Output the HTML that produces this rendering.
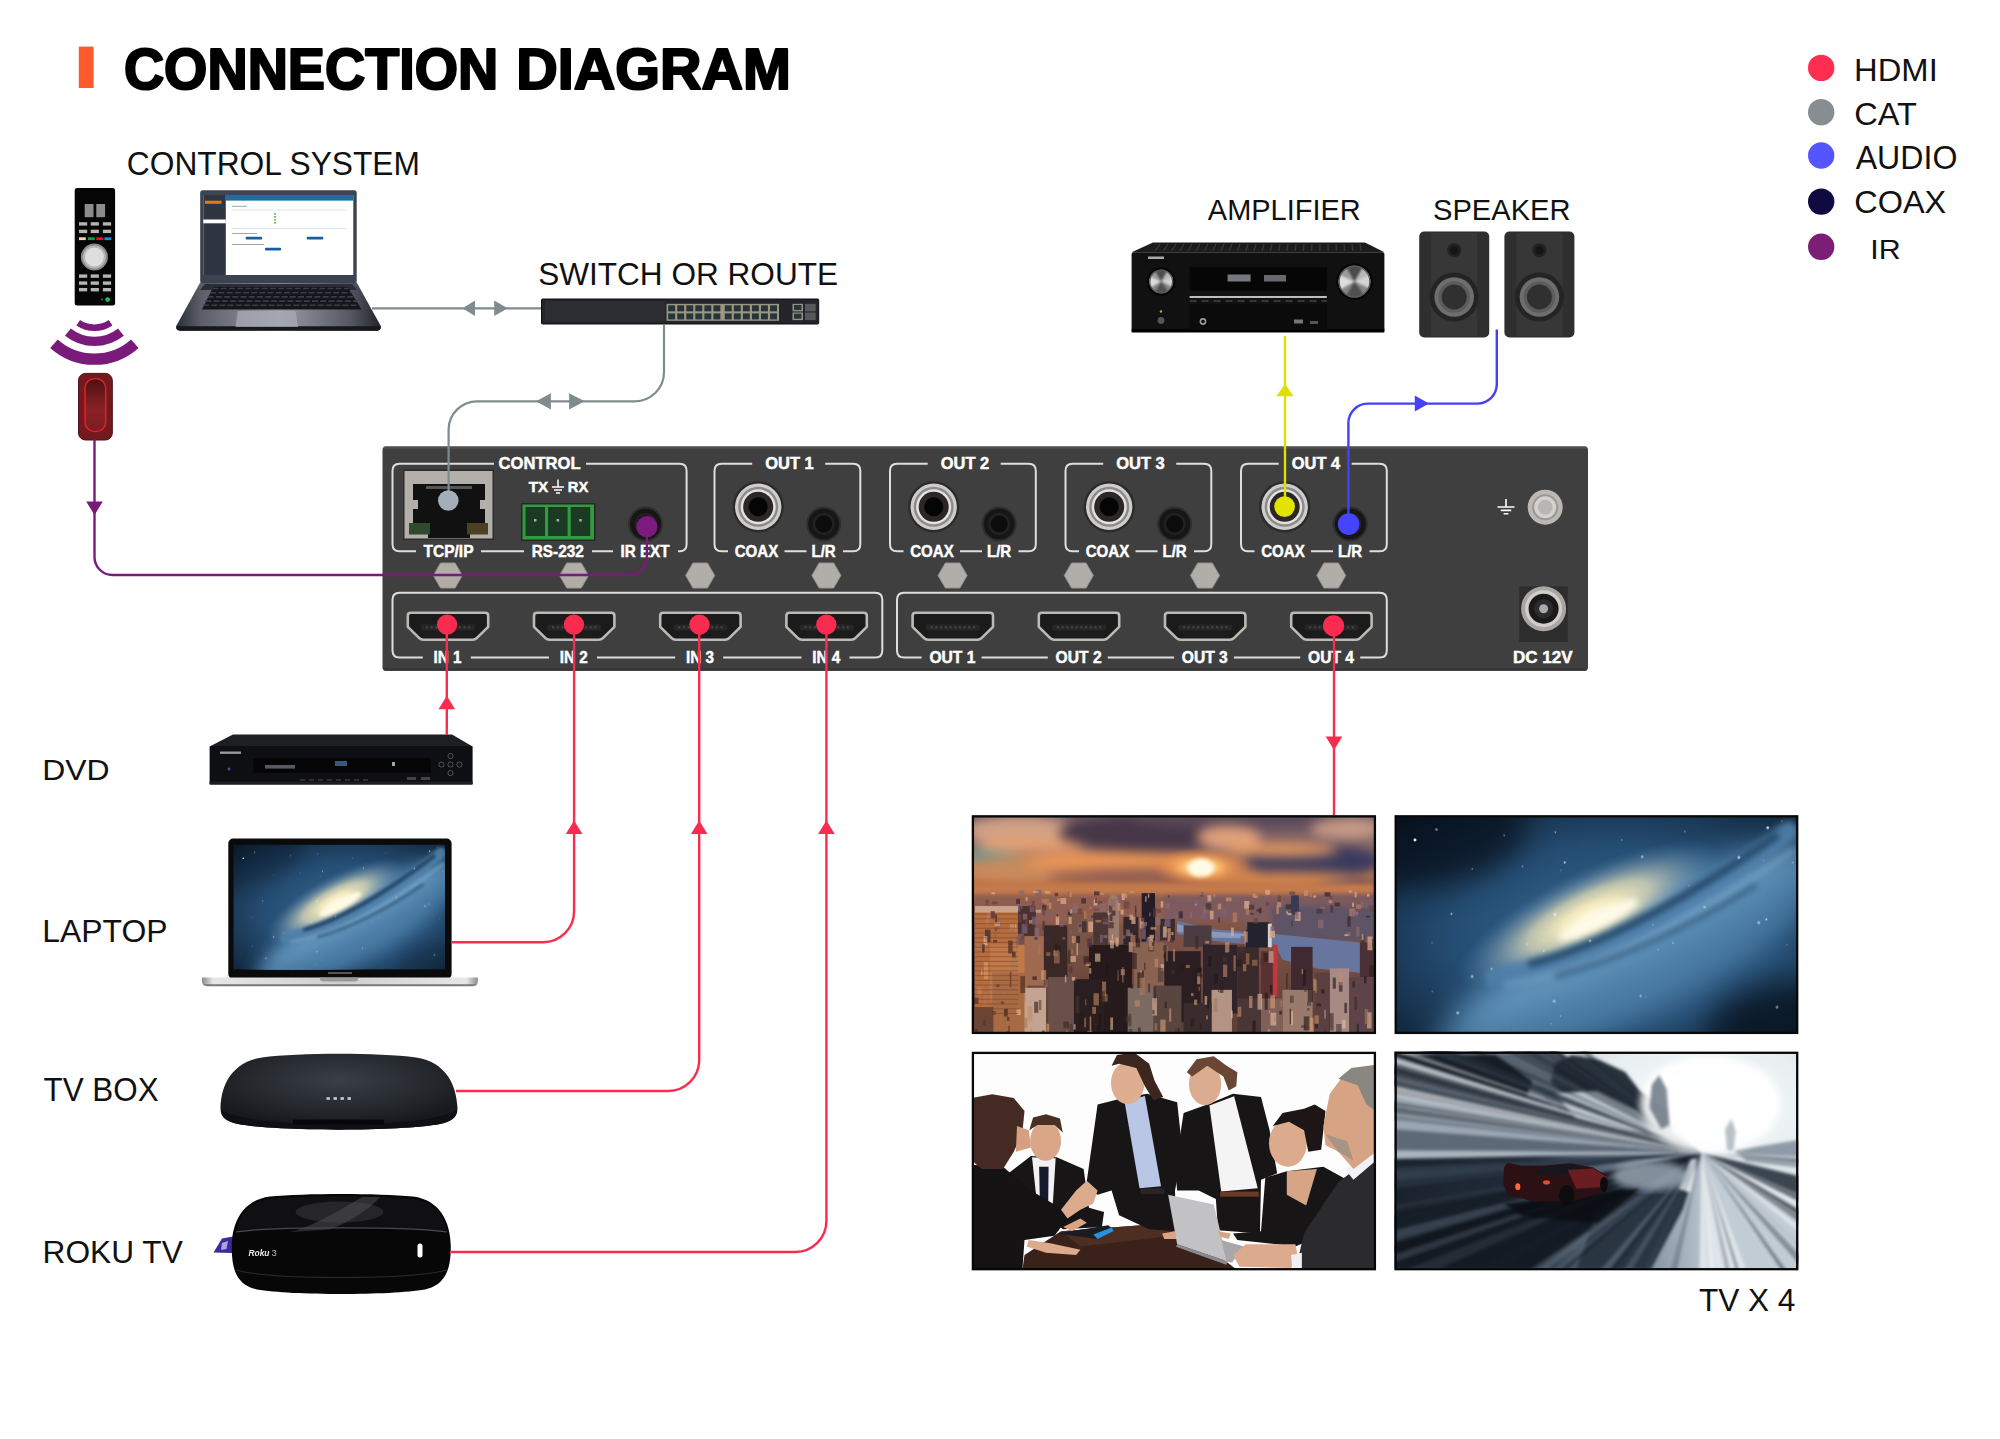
<!DOCTYPE html>
<html><head><meta charset="utf-8"><title>Connection Diagram</title>
<style>
html,body{margin:0;padding:0;background:#fff;}
body{width:2000px;height:1439px;overflow:hidden;font-family:"Liberation Sans",sans-serif;}
svg{display:block;}
</style></head><body>
<svg width="2000" height="1439" viewBox="0 0 2000 1439">
<rect width="2000" height="1439" fill="#fff"/>
<!-- p1_text -->
<rect x="78.8" y="46.6" width="14.8" height="41.4" fill="#ff5a2b"/>
<text x="123.9" y="89.2" font-family="Liberation Sans, sans-serif" font-weight="bold" font-size="57.3" fill="#000" stroke="#000" stroke-width="2.2" stroke-linejoin="round" lengthAdjust="spacingAndGlyphs" textLength="374.4">CONNECTION</text>
<text x="516.3" y="89.2" font-family="Liberation Sans, sans-serif" font-weight="bold" font-size="57.3" fill="#000" stroke="#000" stroke-width="2.2" stroke-linejoin="round" lengthAdjust="spacingAndGlyphs" textLength="274.5">DIAGRAM</text>
<text x="126.87" y="174.7" font-family="Liberation Sans, sans-serif" font-size="32.39" fill="#111" textLength="293.03" lengthAdjust="spacingAndGlyphs">CONTROL SYSTEM</text>
<text x="538.15" y="284.9" font-family="Liberation Sans, sans-serif" font-size="30.47" fill="#111" textLength="299.94" lengthAdjust="spacingAndGlyphs">SWITCH OR ROUTE</text>
<text x="1207.83" y="219.9" font-family="Liberation Sans, sans-serif" font-size="28.57" fill="#111" textLength="152.84" lengthAdjust="spacingAndGlyphs">AMPLIFIER</text>
<text x="1432.96" y="219.9" font-family="Liberation Sans, sans-serif" font-size="29.4" fill="#111" textLength="137.63" lengthAdjust="spacingAndGlyphs">SPEAKER</text>
<text x="42.27" y="779.9" font-family="Liberation Sans, sans-serif" font-size="30.13" fill="#111" textLength="67.37" lengthAdjust="spacingAndGlyphs">DVD</text>
<text x="42.29" y="941.5" font-family="Liberation Sans, sans-serif" font-size="31.57" fill="#111" textLength="125.28" lengthAdjust="spacingAndGlyphs">LAPTOP</text>
<text x="43.56" y="1101.3" font-family="Liberation Sans, sans-serif" font-size="32.75" fill="#111" textLength="115.04" lengthAdjust="spacingAndGlyphs">TV BOX</text>
<text x="42.62" y="1263.3" font-family="Liberation Sans, sans-serif" font-size="31.57" fill="#111" textLength="140.16" lengthAdjust="spacingAndGlyphs">ROKU TV</text>
<text x="1698.89" y="1311.1" font-family="Liberation Sans, sans-serif" font-size="31.57" fill="#111" textLength="96.54" lengthAdjust="spacingAndGlyphs">TV X 4</text>
<text x="1854.09" y="80.7" font-family="Liberation Sans, sans-serif" font-size="30.62" fill="#111" textLength="83.66" lengthAdjust="spacingAndGlyphs">HDMI</text>
<text x="1854.26" y="125.3" font-family="Liberation Sans, sans-serif" font-size="32.17" fill="#111" textLength="62.61" lengthAdjust="spacingAndGlyphs">CAT</text>
<text x="1855.69" y="169.1" font-family="Liberation Sans, sans-serif" font-size="33.58" fill="#111" textLength="101.7" lengthAdjust="spacingAndGlyphs">AUDIO</text>
<text x="1854.27" y="213.3" font-family="Liberation Sans, sans-serif" font-size="32.17" fill="#111" textLength="91.95" lengthAdjust="spacingAndGlyphs">COAX</text>
<text x="1870.38" y="258.5" font-family="Liberation Sans, sans-serif" font-size="28.27" fill="#111" textLength="30.36" lengthAdjust="spacingAndGlyphs">IR</text>
<circle cx="1821.2" cy="67.9" r="13.2" fill="#ff2d4f"/>
<circle cx="1821.2" cy="112.2" r="13.2" fill="#868e91"/>
<circle cx="1821.2" cy="155.5" r="13.2" fill="#5555ff"/>
<circle cx="1821.2" cy="201.6" r="13.2" fill="#0f0a40"/>
<circle cx="1821.2" cy="246.8" r="13.2" fill="#7a1f75"/>
<!-- p3_device -->
<rect x="382.5" y="446.5" width="1205.5" height="224.2" rx="3.5" fill="#3f3f3f"/>
<rect x="383.5" y="446.5" width="1203.5" height="2.2" rx="1.5" fill="#505050"/>
<rect x="383.5" y="668.4" width="1203.5" height="2.3" rx="1.5" fill="#353535"/>
<path d="M399.5 463.8H494M586 463.8H679.6M399.5 551.3H416M481 551.3H524M592 551.3H613M678 551.3H679.6M399.5 463.8Q392.5 463.8 392.5 470.8V544.3Q392.5 551.3 399.5 551.3M679.6 463.8Q686.6 463.8 686.6 470.8V544.3Q686.6 551.3 679.6 551.3" fill="none" stroke="#dedede" stroke-width="2"/>
<text x="539.6" y="469" font-family="Liberation Sans, sans-serif" font-weight="bold" font-size="15.7" fill="#fff" stroke="#fff" stroke-width="0.45" text-anchor="middle" textLength="82" lengthAdjust="spacingAndGlyphs">CONTROL</text>
<text x="448.5" y="556.7" font-family="Liberation Sans, sans-serif" font-weight="bold" font-size="15.7" fill="#fff" stroke="#fff" stroke-width="0.45" text-anchor="middle" textLength="50" lengthAdjust="spacingAndGlyphs">TCP/IP</text>
<text x="557.8" y="556.7" font-family="Liberation Sans, sans-serif" font-weight="bold" font-size="15.7" fill="#fff" stroke="#fff" stroke-width="0.45" text-anchor="middle" textLength="52" lengthAdjust="spacingAndGlyphs">RS-232</text>
<text x="645" y="556.7" font-family="Liberation Sans, sans-serif" font-weight="bold" font-size="15.7" fill="#fff" stroke="#fff" stroke-width="0.45" text-anchor="middle" textLength="49" lengthAdjust="spacingAndGlyphs">IR EXT</text>
<text x="538.5" y="492.2" font-family="Liberation Sans, sans-serif" font-weight="bold" font-size="14.2" fill="#fff" stroke="#fff" stroke-width="0.45" text-anchor="middle" textLength="19.5" lengthAdjust="spacingAndGlyphs">TX</text>
<text x="578" y="492.2" font-family="Liberation Sans, sans-serif" font-weight="bold" font-size="14.2" fill="#fff" stroke="#fff" stroke-width="0.45" text-anchor="middle" textLength="20.5" lengthAdjust="spacingAndGlyphs">RX</text>
<path d="M558 479.5V487M552 487H564M554 490H562M556 493H560" stroke="#fff" stroke-width="1.5" fill="none"/>
<rect x="403" y="469.5" width="91" height="70.5" fill="#2c2c2c"/>
<rect x="404.5" y="471" width="88" height="67.5" fill="#b3afab"/>
<path d="M413 484H485V531H470V538H428V531H413Z" fill="#111"/>
<rect x="409" y="523" width="21" height="11.5" fill="#2f4a2c"/>
<rect x="467" y="523" width="21" height="11.5" fill="#4d4124"/>
<rect x="426" y="486" width="46" height="3" fill="#555"/>
<rect x="413" y="500" width="5" height="9" fill="#b3afab"/><rect x="480" y="500" width="5" height="9" fill="#b3afab"/>
<rect x="521" y="503" width="74.5" height="38" fill="#262626"/>
<rect x="522.5" y="504.5" width="71.5" height="35" fill="#2f9c40"/>
<rect x="525.5" y="507" width="19.5" height="29" fill="#1b3a24"/>
<rect x="534" y="519" width="2.5" height="2.5" fill="#9fb8a0"/>
<rect x="548.1" y="507" width="19.5" height="29" fill="#1b3a24"/>
<rect x="556.6" y="519" width="2.5" height="2.5" fill="#9fb8a0"/>
<rect x="570.7" y="507" width="19.5" height="29" fill="#1b3a24"/>
<rect x="579.2" y="519" width="2.5" height="2.5" fill="#9fb8a0"/>
<circle cx="645.6" cy="524" r="17.5" fill="#2e2e2e"/><circle cx="645.6" cy="524" r="15.5" fill="#161616"/><circle cx="645.6" cy="524" r="11" fill="#222"/><circle cx="645.6" cy="524" r="8.5" fill="#0c0c0c"/>
<path d="M721.5 463.8H752.2M825.2 463.8H853.3M721.5 551.3H728M784.5 551.3H806.5M843 551.3H853.3M721.5 463.8Q714.5 463.8 714.5 470.8V544.3Q714.5 551.3 721.5 551.3M853.3 463.8Q860.3 463.8 860.3 470.8V544.3Q860.3 551.3 853.3 551.3" fill="none" stroke="#dedede" stroke-width="2"/>
<text x="789.5" y="469" font-family="Liberation Sans, sans-serif" font-weight="bold" font-size="15.7" fill="#fff" stroke="#fff" stroke-width="0.45" text-anchor="middle" textLength="48.5" lengthAdjust="spacingAndGlyphs">OUT 1</text>
<text x="756.5" y="556.7" font-family="Liberation Sans, sans-serif" font-weight="bold" font-size="15.7" fill="#fff" stroke="#fff" stroke-width="0.45" text-anchor="middle" textLength="43.5" lengthAdjust="spacingAndGlyphs">COAX</text>
<text x="823.6" y="556.7" font-family="Liberation Sans, sans-serif" font-weight="bold" font-size="15.7" fill="#fff" stroke="#fff" stroke-width="0.45" text-anchor="middle" textLength="24.2" lengthAdjust="spacingAndGlyphs">L/R</text>
<circle cx="758.2" cy="506.8" r="25.6" fill="#2b2b2b"/><circle cx="758.2" cy="506.8" r="23.2" fill="#cfcdca"/><circle cx="758.2" cy="506.8" r="20" fill="#8d8b89"/><circle cx="758.2" cy="506.8" r="17.5" fill="#e4e2e0"/><circle cx="758.2" cy="506.8" r="15" fill="#2b2727"/><circle cx="758.2" cy="506.8" r="9.5" fill="#050505"/>
<circle cx="823.7" cy="524" r="17.5" fill="#2e2e2e"/><circle cx="823.7" cy="524" r="15.5" fill="#161616"/><circle cx="823.7" cy="524" r="11" fill="#222"/><circle cx="823.7" cy="524" r="8.5" fill="#0c0c0c"/>
<path d="M897 463.8H927.7M1000.7 463.8H1028.8M897 551.3H903.5M960 551.3H982M1018.5 551.3H1028.8M897 463.8Q890 463.8 890 470.8V544.3Q890 551.3 897 551.3M1028.8 463.8Q1035.8 463.8 1035.8 470.8V544.3Q1035.8 551.3 1028.8 551.3" fill="none" stroke="#dedede" stroke-width="2"/>
<text x="965" y="469" font-family="Liberation Sans, sans-serif" font-weight="bold" font-size="15.7" fill="#fff" stroke="#fff" stroke-width="0.45" text-anchor="middle" textLength="48.5" lengthAdjust="spacingAndGlyphs">OUT 2</text>
<text x="932" y="556.7" font-family="Liberation Sans, sans-serif" font-weight="bold" font-size="15.7" fill="#fff" stroke="#fff" stroke-width="0.45" text-anchor="middle" textLength="43.5" lengthAdjust="spacingAndGlyphs">COAX</text>
<text x="999.1" y="556.7" font-family="Liberation Sans, sans-serif" font-weight="bold" font-size="15.7" fill="#fff" stroke="#fff" stroke-width="0.45" text-anchor="middle" textLength="24.2" lengthAdjust="spacingAndGlyphs">L/R</text>
<circle cx="933.7" cy="506.8" r="25.6" fill="#2b2b2b"/><circle cx="933.7" cy="506.8" r="23.2" fill="#cfcdca"/><circle cx="933.7" cy="506.8" r="20" fill="#8d8b89"/><circle cx="933.7" cy="506.8" r="17.5" fill="#e4e2e0"/><circle cx="933.7" cy="506.8" r="15" fill="#2b2727"/><circle cx="933.7" cy="506.8" r="9.5" fill="#050505"/>
<circle cx="999.2" cy="524" r="17.5" fill="#2e2e2e"/><circle cx="999.2" cy="524" r="15.5" fill="#161616"/><circle cx="999.2" cy="524" r="11" fill="#222"/><circle cx="999.2" cy="524" r="8.5" fill="#0c0c0c"/>
<path d="M1072.5 463.8H1103.2M1176.2 463.8H1204.3M1072.5 551.3H1079M1135.5 551.3H1157.5M1194 551.3H1204.3M1072.5 463.8Q1065.5 463.8 1065.5 470.8V544.3Q1065.5 551.3 1072.5 551.3M1204.3 463.8Q1211.3 463.8 1211.3 470.8V544.3Q1211.3 551.3 1204.3 551.3" fill="none" stroke="#dedede" stroke-width="2"/>
<text x="1140.5" y="469" font-family="Liberation Sans, sans-serif" font-weight="bold" font-size="15.7" fill="#fff" stroke="#fff" stroke-width="0.45" text-anchor="middle" textLength="48.5" lengthAdjust="spacingAndGlyphs">OUT 3</text>
<text x="1107.5" y="556.7" font-family="Liberation Sans, sans-serif" font-weight="bold" font-size="15.7" fill="#fff" stroke="#fff" stroke-width="0.45" text-anchor="middle" textLength="43.5" lengthAdjust="spacingAndGlyphs">COAX</text>
<text x="1174.6" y="556.7" font-family="Liberation Sans, sans-serif" font-weight="bold" font-size="15.7" fill="#fff" stroke="#fff" stroke-width="0.45" text-anchor="middle" textLength="24.2" lengthAdjust="spacingAndGlyphs">L/R</text>
<circle cx="1109.2" cy="506.8" r="25.6" fill="#2b2b2b"/><circle cx="1109.2" cy="506.8" r="23.2" fill="#cfcdca"/><circle cx="1109.2" cy="506.8" r="20" fill="#8d8b89"/><circle cx="1109.2" cy="506.8" r="17.5" fill="#e4e2e0"/><circle cx="1109.2" cy="506.8" r="15" fill="#2b2727"/><circle cx="1109.2" cy="506.8" r="9.5" fill="#050505"/>
<circle cx="1174.7" cy="524" r="17.5" fill="#2e2e2e"/><circle cx="1174.7" cy="524" r="15.5" fill="#161616"/><circle cx="1174.7" cy="524" r="11" fill="#222"/><circle cx="1174.7" cy="524" r="8.5" fill="#0c0c0c"/>
<path d="M1248 463.8H1278.7M1351.7 463.8H1379.8M1248 551.3H1254.5M1311 551.3H1333M1369.5 551.3H1379.8M1248 463.8Q1241 463.8 1241 470.8V544.3Q1241 551.3 1248 551.3M1379.8 463.8Q1386.8 463.8 1386.8 470.8V544.3Q1386.8 551.3 1379.8 551.3" fill="none" stroke="#dedede" stroke-width="2"/>
<text x="1316" y="469" font-family="Liberation Sans, sans-serif" font-weight="bold" font-size="15.7" fill="#fff" stroke="#fff" stroke-width="0.45" text-anchor="middle" textLength="48.5" lengthAdjust="spacingAndGlyphs">OUT 4</text>
<text x="1283" y="556.7" font-family="Liberation Sans, sans-serif" font-weight="bold" font-size="15.7" fill="#fff" stroke="#fff" stroke-width="0.45" text-anchor="middle" textLength="43.5" lengthAdjust="spacingAndGlyphs">COAX</text>
<text x="1350.1" y="556.7" font-family="Liberation Sans, sans-serif" font-weight="bold" font-size="15.7" fill="#fff" stroke="#fff" stroke-width="0.45" text-anchor="middle" textLength="24.2" lengthAdjust="spacingAndGlyphs">L/R</text>
<circle cx="1284.7" cy="506.8" r="25.6" fill="#2b2b2b"/><circle cx="1284.7" cy="506.8" r="23.2" fill="#cfcdca"/><circle cx="1284.7" cy="506.8" r="20" fill="#8d8b89"/><circle cx="1284.7" cy="506.8" r="17.5" fill="#e4e2e0"/><circle cx="1284.7" cy="506.8" r="15" fill="#2b2727"/><circle cx="1284.7" cy="506.8" r="9.5" fill="#050505"/>
<circle cx="1350.2" cy="524" r="17.5" fill="#2e2e2e"/><circle cx="1350.2" cy="524" r="15.5" fill="#161616"/><circle cx="1350.2" cy="524" r="11" fill="#222"/><circle cx="1350.2" cy="524" r="8.5" fill="#0c0c0c"/>
<path d="M433.3 575.5 L440.55 563 L455.05 563 L462.3 575.5 L455.05 588 L440.55 588Z" fill="#b1ada9" stroke="#97938f" stroke-width="1"/>
<path d="M559.5 575.5 L566.75 563 L581.25 563 L588.5 575.5 L581.25 588 L566.75 588Z" fill="#b1ada9" stroke="#97938f" stroke-width="1"/>
<path d="M685.7 575.5 L692.95 563 L707.45 563 L714.7 575.5 L707.45 588 L692.95 588Z" fill="#b1ada9" stroke="#97938f" stroke-width="1"/>
<path d="M811.9 575.5 L819.15 563 L833.65 563 L840.9 575.5 L833.65 588 L819.15 588Z" fill="#b1ada9" stroke="#97938f" stroke-width="1"/>
<path d="M938.1 575.5 L945.35 563 L959.85 563 L967.1 575.5 L959.85 588 L945.35 588Z" fill="#b1ada9" stroke="#97938f" stroke-width="1"/>
<path d="M1064.3 575.5 L1071.55 563 L1086.05 563 L1093.3 575.5 L1086.05 588 L1071.55 588Z" fill="#b1ada9" stroke="#97938f" stroke-width="1"/>
<path d="M1190.5 575.5 L1197.75 563 L1212.25 563 L1219.5 575.5 L1212.25 588 L1197.75 588Z" fill="#b1ada9" stroke="#97938f" stroke-width="1"/>
<path d="M1316.7 575.5 L1323.95 563 L1338.45 563 L1345.7 575.5 L1338.45 588 L1323.95 588Z" fill="#b1ada9" stroke="#97938f" stroke-width="1"/>
<path d="M399.5 592.7H875.3M399.5 657.4H422.8M470.8 657.4H549M597 657.4H675.2M723.2 657.4H801.4M849.4 657.4H875.3M399.5 592.7Q392.5 592.7 392.5 599.7V650.4Q392.5 657.4 399.5 657.4M875.3 592.7Q882.3 592.7 882.3 599.7V650.4Q882.3 657.4 875.3 657.4" fill="none" stroke="#dedede" stroke-width="2"/>
<path d="M904 592.7H1379.8M904 657.4H921.6M981.6 657.4H1047.8M1107.8 657.4H1174M1234 657.4H1300.2M1360.2 657.4H1379.8M904 592.7Q897 592.7 897 599.7V650.4Q897 657.4 904 657.4M1379.8 592.7Q1386.8 592.7 1386.8 599.7V650.4Q1386.8 657.4 1379.8 657.4" fill="none" stroke="#dedede" stroke-width="2"/>
<path d="M410.8 612.7H485.2Q488.2 612.7 488.2 615.7V626.8L476.7 638.2Q475.2 639.7 472.7 639.7H423.3Q420.8 639.7 419.3 638.2L407.8 626.8V615.7Q407.8 612.7 410.8 612.7Z" fill="#1b1b1b" stroke="#bdbab6" stroke-width="2.6" stroke-linejoin="round"/><rect x="421" y="624.5" width="54" height="6" rx="2.5" fill="#272727"/><rect x="426" y="626.5" width="1.8" height="1.8" fill="#4c4c4c"/><rect x="430.7" y="626.5" width="1.8" height="1.8" fill="#4c4c4c"/><rect x="435.4" y="626.5" width="1.8" height="1.8" fill="#4c4c4c"/><rect x="440.1" y="626.5" width="1.8" height="1.8" fill="#4c4c4c"/><rect x="444.8" y="626.5" width="1.8" height="1.8" fill="#4c4c4c"/><rect x="449.5" y="626.5" width="1.8" height="1.8" fill="#4c4c4c"/><rect x="454.2" y="626.5" width="1.8" height="1.8" fill="#4c4c4c"/><rect x="458.9" y="626.5" width="1.8" height="1.8" fill="#4c4c4c"/><rect x="463.6" y="626.5" width="1.8" height="1.8" fill="#4c4c4c"/><rect x="468.3" y="626.5" width="1.8" height="1.8" fill="#4c4c4c"/>
<text x="447.6" y="662.9" font-family="Liberation Sans, sans-serif" font-weight="bold" font-size="15.7" fill="#fff" stroke="#fff" stroke-width="0.45" text-anchor="middle" textLength="28" lengthAdjust="spacingAndGlyphs">IN 1</text>
<path d="M537 612.7H611.4Q614.4 612.7 614.4 615.7V626.8L602.9 638.2Q601.4 639.7 598.9 639.7H549.5Q547 639.7 545.5 638.2L534 626.8V615.7Q534 612.7 537 612.7Z" fill="#1b1b1b" stroke="#bdbab6" stroke-width="2.6" stroke-linejoin="round"/><rect x="547.2" y="624.5" width="54" height="6" rx="2.5" fill="#272727"/><rect x="552.2" y="626.5" width="1.8" height="1.8" fill="#4c4c4c"/><rect x="556.9" y="626.5" width="1.8" height="1.8" fill="#4c4c4c"/><rect x="561.6" y="626.5" width="1.8" height="1.8" fill="#4c4c4c"/><rect x="566.3" y="626.5" width="1.8" height="1.8" fill="#4c4c4c"/><rect x="571" y="626.5" width="1.8" height="1.8" fill="#4c4c4c"/><rect x="575.7" y="626.5" width="1.8" height="1.8" fill="#4c4c4c"/><rect x="580.4" y="626.5" width="1.8" height="1.8" fill="#4c4c4c"/><rect x="585.1" y="626.5" width="1.8" height="1.8" fill="#4c4c4c"/><rect x="589.8" y="626.5" width="1.8" height="1.8" fill="#4c4c4c"/><rect x="594.5" y="626.5" width="1.8" height="1.8" fill="#4c4c4c"/>
<text x="573.8" y="662.9" font-family="Liberation Sans, sans-serif" font-weight="bold" font-size="15.7" fill="#fff" stroke="#fff" stroke-width="0.45" text-anchor="middle" textLength="28" lengthAdjust="spacingAndGlyphs">IN 2</text>
<path d="M663.2 612.7H737.6Q740.6 612.7 740.6 615.7V626.8L729.1 638.2Q727.6 639.7 725.1 639.7H675.7Q673.2 639.7 671.7 638.2L660.2 626.8V615.7Q660.2 612.7 663.2 612.7Z" fill="#1b1b1b" stroke="#bdbab6" stroke-width="2.6" stroke-linejoin="round"/><rect x="673.4" y="624.5" width="54" height="6" rx="2.5" fill="#272727"/><rect x="678.4" y="626.5" width="1.8" height="1.8" fill="#4c4c4c"/><rect x="683.1" y="626.5" width="1.8" height="1.8" fill="#4c4c4c"/><rect x="687.8" y="626.5" width="1.8" height="1.8" fill="#4c4c4c"/><rect x="692.5" y="626.5" width="1.8" height="1.8" fill="#4c4c4c"/><rect x="697.2" y="626.5" width="1.8" height="1.8" fill="#4c4c4c"/><rect x="701.9" y="626.5" width="1.8" height="1.8" fill="#4c4c4c"/><rect x="706.6" y="626.5" width="1.8" height="1.8" fill="#4c4c4c"/><rect x="711.3" y="626.5" width="1.8" height="1.8" fill="#4c4c4c"/><rect x="716" y="626.5" width="1.8" height="1.8" fill="#4c4c4c"/><rect x="720.7" y="626.5" width="1.8" height="1.8" fill="#4c4c4c"/>
<text x="700" y="662.9" font-family="Liberation Sans, sans-serif" font-weight="bold" font-size="15.7" fill="#fff" stroke="#fff" stroke-width="0.45" text-anchor="middle" textLength="28" lengthAdjust="spacingAndGlyphs">IN 3</text>
<path d="M789.4 612.7H863.8Q866.8 612.7 866.8 615.7V626.8L855.3 638.2Q853.8 639.7 851.3 639.7H801.9Q799.4 639.7 797.9 638.2L786.4 626.8V615.7Q786.4 612.7 789.4 612.7Z" fill="#1b1b1b" stroke="#bdbab6" stroke-width="2.6" stroke-linejoin="round"/><rect x="799.6" y="624.5" width="54" height="6" rx="2.5" fill="#272727"/><rect x="804.6" y="626.5" width="1.8" height="1.8" fill="#4c4c4c"/><rect x="809.3" y="626.5" width="1.8" height="1.8" fill="#4c4c4c"/><rect x="814" y="626.5" width="1.8" height="1.8" fill="#4c4c4c"/><rect x="818.7" y="626.5" width="1.8" height="1.8" fill="#4c4c4c"/><rect x="823.4" y="626.5" width="1.8" height="1.8" fill="#4c4c4c"/><rect x="828.1" y="626.5" width="1.8" height="1.8" fill="#4c4c4c"/><rect x="832.8" y="626.5" width="1.8" height="1.8" fill="#4c4c4c"/><rect x="837.5" y="626.5" width="1.8" height="1.8" fill="#4c4c4c"/><rect x="842.2" y="626.5" width="1.8" height="1.8" fill="#4c4c4c"/><rect x="846.9" y="626.5" width="1.8" height="1.8" fill="#4c4c4c"/>
<text x="826.2" y="662.9" font-family="Liberation Sans, sans-serif" font-weight="bold" font-size="15.7" fill="#fff" stroke="#fff" stroke-width="0.45" text-anchor="middle" textLength="28" lengthAdjust="spacingAndGlyphs">IN 4</text>
<path d="M915.6 612.7H990Q993 612.7 993 615.7V626.8L981.5 638.2Q980 639.7 977.5 639.7H928.1Q925.6 639.7 924.1 638.2L912.6 626.8V615.7Q912.6 612.7 915.6 612.7Z" fill="#1b1b1b" stroke="#bdbab6" stroke-width="2.6" stroke-linejoin="round"/><rect x="925.8" y="624.5" width="54" height="6" rx="2.5" fill="#272727"/><rect x="930.8" y="626.5" width="1.8" height="1.8" fill="#4c4c4c"/><rect x="935.5" y="626.5" width="1.8" height="1.8" fill="#4c4c4c"/><rect x="940.2" y="626.5" width="1.8" height="1.8" fill="#4c4c4c"/><rect x="944.9" y="626.5" width="1.8" height="1.8" fill="#4c4c4c"/><rect x="949.6" y="626.5" width="1.8" height="1.8" fill="#4c4c4c"/><rect x="954.3" y="626.5" width="1.8" height="1.8" fill="#4c4c4c"/><rect x="959" y="626.5" width="1.8" height="1.8" fill="#4c4c4c"/><rect x="963.7" y="626.5" width="1.8" height="1.8" fill="#4c4c4c"/><rect x="968.4" y="626.5" width="1.8" height="1.8" fill="#4c4c4c"/><rect x="973.1" y="626.5" width="1.8" height="1.8" fill="#4c4c4c"/>
<text x="952.4" y="662.9" font-family="Liberation Sans, sans-serif" font-weight="bold" font-size="15.7" fill="#fff" stroke="#fff" stroke-width="0.45" text-anchor="middle" textLength="46" lengthAdjust="spacingAndGlyphs">OUT 1</text>
<path d="M1041.8 612.7H1116.2Q1119.2 612.7 1119.2 615.7V626.8L1107.7 638.2Q1106.2 639.7 1103.7 639.7H1054.3Q1051.8 639.7 1050.3 638.2L1038.8 626.8V615.7Q1038.8 612.7 1041.8 612.7Z" fill="#1b1b1b" stroke="#bdbab6" stroke-width="2.6" stroke-linejoin="round"/><rect x="1052" y="624.5" width="54" height="6" rx="2.5" fill="#272727"/><rect x="1057" y="626.5" width="1.8" height="1.8" fill="#4c4c4c"/><rect x="1061.7" y="626.5" width="1.8" height="1.8" fill="#4c4c4c"/><rect x="1066.4" y="626.5" width="1.8" height="1.8" fill="#4c4c4c"/><rect x="1071.1" y="626.5" width="1.8" height="1.8" fill="#4c4c4c"/><rect x="1075.8" y="626.5" width="1.8" height="1.8" fill="#4c4c4c"/><rect x="1080.5" y="626.5" width="1.8" height="1.8" fill="#4c4c4c"/><rect x="1085.2" y="626.5" width="1.8" height="1.8" fill="#4c4c4c"/><rect x="1089.9" y="626.5" width="1.8" height="1.8" fill="#4c4c4c"/><rect x="1094.6" y="626.5" width="1.8" height="1.8" fill="#4c4c4c"/><rect x="1099.3" y="626.5" width="1.8" height="1.8" fill="#4c4c4c"/>
<text x="1078.6" y="662.9" font-family="Liberation Sans, sans-serif" font-weight="bold" font-size="15.7" fill="#fff" stroke="#fff" stroke-width="0.45" text-anchor="middle" textLength="46" lengthAdjust="spacingAndGlyphs">OUT 2</text>
<path d="M1168 612.7H1242.4Q1245.4 612.7 1245.4 615.7V626.8L1233.9 638.2Q1232.4 639.7 1229.9 639.7H1180.5Q1178 639.7 1176.5 638.2L1165 626.8V615.7Q1165 612.7 1168 612.7Z" fill="#1b1b1b" stroke="#bdbab6" stroke-width="2.6" stroke-linejoin="round"/><rect x="1178.2" y="624.5" width="54" height="6" rx="2.5" fill="#272727"/><rect x="1183.2" y="626.5" width="1.8" height="1.8" fill="#4c4c4c"/><rect x="1187.9" y="626.5" width="1.8" height="1.8" fill="#4c4c4c"/><rect x="1192.6" y="626.5" width="1.8" height="1.8" fill="#4c4c4c"/><rect x="1197.3" y="626.5" width="1.8" height="1.8" fill="#4c4c4c"/><rect x="1202" y="626.5" width="1.8" height="1.8" fill="#4c4c4c"/><rect x="1206.7" y="626.5" width="1.8" height="1.8" fill="#4c4c4c"/><rect x="1211.4" y="626.5" width="1.8" height="1.8" fill="#4c4c4c"/><rect x="1216.1" y="626.5" width="1.8" height="1.8" fill="#4c4c4c"/><rect x="1220.8" y="626.5" width="1.8" height="1.8" fill="#4c4c4c"/><rect x="1225.5" y="626.5" width="1.8" height="1.8" fill="#4c4c4c"/>
<text x="1204.8" y="662.9" font-family="Liberation Sans, sans-serif" font-weight="bold" font-size="15.7" fill="#fff" stroke="#fff" stroke-width="0.45" text-anchor="middle" textLength="46" lengthAdjust="spacingAndGlyphs">OUT 3</text>
<path d="M1294.2 612.7H1368.6Q1371.6 612.7 1371.6 615.7V626.8L1360.1 638.2Q1358.6 639.7 1356.1 639.7H1306.7Q1304.2 639.7 1302.7 638.2L1291.2 626.8V615.7Q1291.2 612.7 1294.2 612.7Z" fill="#1b1b1b" stroke="#bdbab6" stroke-width="2.6" stroke-linejoin="round"/><rect x="1304.4" y="624.5" width="54" height="6" rx="2.5" fill="#272727"/><rect x="1309.4" y="626.5" width="1.8" height="1.8" fill="#4c4c4c"/><rect x="1314.1" y="626.5" width="1.8" height="1.8" fill="#4c4c4c"/><rect x="1318.8" y="626.5" width="1.8" height="1.8" fill="#4c4c4c"/><rect x="1323.5" y="626.5" width="1.8" height="1.8" fill="#4c4c4c"/><rect x="1328.2" y="626.5" width="1.8" height="1.8" fill="#4c4c4c"/><rect x="1332.9" y="626.5" width="1.8" height="1.8" fill="#4c4c4c"/><rect x="1337.6" y="626.5" width="1.8" height="1.8" fill="#4c4c4c"/><rect x="1342.3" y="626.5" width="1.8" height="1.8" fill="#4c4c4c"/><rect x="1347" y="626.5" width="1.8" height="1.8" fill="#4c4c4c"/><rect x="1351.7" y="626.5" width="1.8" height="1.8" fill="#4c4c4c"/>
<text x="1331" y="662.9" font-family="Liberation Sans, sans-serif" font-weight="bold" font-size="15.7" fill="#fff" stroke="#fff" stroke-width="0.45" text-anchor="middle" textLength="46" lengthAdjust="spacingAndGlyphs">OUT 4</text>
<path d="M1506 499V507M1497.5 507H1514.5M1500.8 510.4H1511.2M1503.6 513.7H1508.4" stroke="#fff" stroke-width="1.6" fill="none"/>
<circle cx="1545.2" cy="507.2" r="17.5" fill="#bcb9b5"/>
<circle cx="1545.2" cy="507.2" r="13" fill="#9a9794"/>
<circle cx="1545.2" cy="507.2" r="11" fill="#d4d2cf"/>
<circle cx="1545.2" cy="507.2" r="7.5" fill="#b9b6b3"/>
<rect x="1519.3" y="586.4" width="48.4" height="55.5" fill="#2d2d2d"/>
<circle cx="1543.6" cy="608.7" r="22.5" fill="#aaa7a3"/>
<circle cx="1543.6" cy="608.7" r="18.5" fill="#d0cecb"/>
<circle cx="1543.6" cy="608.7" r="15" fill="#1a1a1a"/>
<circle cx="1543.6" cy="608.7" r="9.5" fill="#2c2c2c"/>
<circle cx="1543.6" cy="608.7" r="4.5" fill="#aaa"/>
<text x="1542.8" y="663" font-family="Liberation Sans, sans-serif" font-weight="bold" font-size="15.7" fill="#fff" stroke="#fff" stroke-width="0.45" text-anchor="middle" textLength="59.5" lengthAdjust="spacingAndGlyphs">DC 12V</text>
<!-- p4_ctrl -->
<rect x="74.7" y="188" width="40.4" height="117.4" rx="2.5" fill="#050505"/>
<rect x="84.7" y="204" width="8.8" height="13.2" fill="#8c8c8c"/><rect x="96.3" y="204" width="8.8" height="13.2" fill="#8c8c8c"/>
<rect x="79" y="222.2" width="8.2" height="3.4" fill="#b4b4b4"/>
<rect x="90.7" y="222.2" width="8.2" height="3.4" fill="#b4b4b4"/>
<rect x="102.9" y="222.2" width="8.2" height="3.4" fill="#b4b4b4"/>
<rect x="79" y="229.7" width="8.2" height="3.4" fill="#b4b4b4"/>
<rect x="90.7" y="229.7" width="8.2" height="3.4" fill="#b4b4b4"/>
<rect x="102.9" y="229.7" width="8.2" height="3.4" fill="#b4b4b4"/>
<rect x="79" y="274.4" width="8.2" height="3.4" fill="#b4b4b4"/>
<rect x="90.7" y="274.4" width="8.2" height="3.4" fill="#b4b4b4"/>
<rect x="102.9" y="274.4" width="8.2" height="3.4" fill="#b4b4b4"/>
<rect x="79" y="281.4" width="8.2" height="3.4" fill="#b4b4b4"/>
<rect x="90.7" y="281.4" width="8.2" height="3.4" fill="#b4b4b4"/>
<rect x="102.9" y="281.4" width="8.2" height="3.4" fill="#b4b4b4"/>
<rect x="79" y="288" width="8.2" height="3.4" fill="#b4b4b4"/>
<rect x="90.7" y="288" width="8.2" height="3.4" fill="#b4b4b4"/>
<rect x="102.9" y="288" width="8.2" height="3.4" fill="#b4b4b4"/>
<rect x="79" y="237.3" width="6.8" height="2.8" fill="#f0dca8"/>
<rect x="87.9" y="237.3" width="6.8" height="2.8" fill="#0aa040"/>
<rect x="96.3" y="237.3" width="6.8" height="2.8" fill="#e61226"/>
<rect x="104.4" y="237.3" width="6.8" height="2.8" fill="#1a86e6"/>
<circle cx="94.4" cy="257" r="13.5" fill="#8a8a8a"/><circle cx="94.4" cy="257" r="11.5" fill="#b5b5b5"/><circle cx="94.4" cy="257" r="9.4" fill="#dedede"/>
<circle cx="107.6" cy="299.6" r="2.4" fill="#10c050"/><circle cx="102" cy="299.6" r="1" fill="#0a8a3a"/>
<path d="M110.62 322.84A29 29 0 0 1 78.18 322.84" fill="none" stroke="#7a1a7a" stroke-width="6.6"/>
<path d="M120.92 332.14A42.6 42.6 0 0 1 67.88 332.14" fill="none" stroke="#7a1a7a" stroke-width="9.4"/>
<path d="M134.82 343.69A60.4 60.4 0 0 1 53.98 343.69" fill="none" stroke="#7a1a7a" stroke-width="11.3"/>
<defs><linearGradient id="irg" x1="0" y1="0" x2="0" y2="1"><stop offset="0" stop-color="#4e1013"/><stop offset="0.6" stop-color="#8a2226"/><stop offset="1" stop-color="#7a1c20"/></linearGradient></defs>
<rect x="78.5" y="373.4" width="33.8" height="66.6" rx="7" fill="#741a1e" stroke="#4a1013" stroke-width="1"/>
<rect x="85" y="378.6" width="20.7" height="53" rx="9.5" fill="url(#irg)" stroke="#e8202c" stroke-width="1.4"/>
<defs><linearGradient id="lpb" x1="0" y1="0" x2="1" y2="0"><stop offset="0" stop-color="#2b2e36"/><stop offset="0.12" stop-color="#5b5e69"/><stop offset="0.5" stop-color="#9a9ca8"/><stop offset="0.85" stop-color="#555862"/><stop offset="1" stop-color="#23252b"/></linearGradient></defs>
<path d="M200.2 282.5H356.7L380.8 326Q381.5 330.8 376 330.8H181Q175.5 330.8 176.2 326Z" fill="url(#lpb)"/>
<path d="M176.5 326.3H380.5Q381.5 330.8 376 330.8H181Q175.5 330.8 176.5 326.3Z" fill="#16181c"/>
<path d="M205 284H352L357 290H200Z" fill="#2a2d35"/>
<path d="M213.3 287H347.8L361.5 309.5H202Z" fill="#14161b"/>
<path d="M212.6 288.5H348.4" stroke="#3a3e48" stroke-width="1.6" stroke-dasharray="6 2.2"/>
<path d="M210.2 292.7H351.3" stroke="#3a3e48" stroke-width="1.6" stroke-dasharray="6 2.2"/>
<path d="M207.8 296.9H354.2" stroke="#3a3e48" stroke-width="1.6" stroke-dasharray="6 2.2"/>
<path d="M205.4 301.1H357.1" stroke="#3a3e48" stroke-width="1.6" stroke-dasharray="6 2.2"/>
<path d="M203 305.3H360" stroke="#3a3e48" stroke-width="1.6" stroke-dasharray="6 2.2"/>
<path d="M237.8 311H295.6L298 327H235.5Z" fill="#a8aab5" opacity="0.75"/>
<rect x="200.2" y="190.2" width="156.5" height="93" rx="2.5" fill="#3b4350"/>
<rect x="203.3" y="195" width="150" height="80" fill="#fff"/>
<rect x="203.3" y="195" width="22.5" height="80" fill="#2f3641"/>
<rect x="203.3" y="191.5" width="150" height="3.5" fill="#3e4653"/>
<rect x="225.8" y="195" width="127.5" height="5.6" fill="#1b6f9e"/>
<rect x="205" y="200.7" width="16.5" height="3.1" fill="#e07a18"/>
<rect x="203.3" y="219.5" width="22.5" height="3.8" fill="#fff"/>
<rect x="245.6" y="236.7" width="16.6" height="2.7" rx="1" fill="#1a5f9c"/>
<rect x="306.7" y="236.7" width="16.6" height="2.7" rx="1" fill="#1a5f9c"/>
<rect x="265" y="247.8" width="16.1" height="2.7" rx="1" fill="#1a5f9c"/>
<path d="M232 210H347M232 228.5H347" stroke="#d8e4ea" stroke-width="1"/>
<path d="M232 206.3H247M232 233.5H257M232 244.5H264" stroke="#9aa" stroke-width="1"/>
<rect x="274" y="213" width="2" height="1.6" fill="#7ab648"/>
<rect x="274" y="216" width="2" height="1.6" fill="#7ab648"/>
<rect x="274" y="219" width="2" height="1.6" fill="#7ab648"/>
<rect x="274" y="222" width="2" height="1.6" fill="#7ab648"/>
<rect x="541.5" y="299" width="277.2" height="25" rx="1" fill="#23252a" stroke="#0e0f11" stroke-width="1"/>
<rect x="545" y="301" width="120" height="20" fill="#2b2d33"/>
<rect x="666.5" y="303.8" width="112.5" height="17" fill="#9a9680"/>
<rect x="668.2" y="305.3" width="6.9" height="6" fill="#27343a"/>
<rect x="677.25" y="305.3" width="6.9" height="6" fill="#27343a"/>
<rect x="686.3" y="305.3" width="6.9" height="6" fill="#27343a"/>
<rect x="695.35" y="305.3" width="6.9" height="6" fill="#27343a"/>
<rect x="704.4" y="305.3" width="6.9" height="6" fill="#27343a"/>
<rect x="713.45" y="305.3" width="6.9" height="6" fill="#27343a"/>
<rect x="724.8" y="305.3" width="6.9" height="6" fill="#27343a"/>
<rect x="733.85" y="305.3" width="6.9" height="6" fill="#27343a"/>
<rect x="742.9" y="305.3" width="6.9" height="6" fill="#27343a"/>
<rect x="751.95" y="305.3" width="6.9" height="6" fill="#27343a"/>
<rect x="761" y="305.3" width="6.9" height="6" fill="#27343a"/>
<rect x="770.05" y="305.3" width="6.9" height="6" fill="#27343a"/>
<rect x="668.2" y="313.4" width="6.9" height="6" fill="#27343a"/>
<rect x="677.25" y="313.4" width="6.9" height="6" fill="#27343a"/>
<rect x="686.3" y="313.4" width="6.9" height="6" fill="#27343a"/>
<rect x="695.35" y="313.4" width="6.9" height="6" fill="#27343a"/>
<rect x="704.4" y="313.4" width="6.9" height="6" fill="#27343a"/>
<rect x="713.45" y="313.4" width="6.9" height="6" fill="#27343a"/>
<rect x="724.8" y="313.4" width="6.9" height="6" fill="#27343a"/>
<rect x="733.85" y="313.4" width="6.9" height="6" fill="#27343a"/>
<rect x="742.9" y="313.4" width="6.9" height="6" fill="#27343a"/>
<rect x="751.95" y="313.4" width="6.9" height="6" fill="#27343a"/>
<rect x="761" y="313.4" width="6.9" height="6" fill="#27343a"/>
<rect x="770.05" y="313.4" width="6.9" height="6" fill="#27343a"/>
<rect x="792.5" y="303.8" width="10.5" height="7.6" fill="#8f9288"/><rect x="794" y="305" width="7.5" height="5" fill="#2a3338"/>
<rect x="805" y="303.8" width="10.7" height="7.6" fill="#55585c"/>
<rect x="792.5" y="312.5" width="10.5" height="7.6" fill="#8f9288"/><rect x="794" y="313.7" width="7.5" height="5" fill="#2a3338"/>
<rect x="805" y="312.5" width="10.7" height="7.6" fill="#55585c"/>
<!-- p5_amp -->
<defs><filter id="knb" color-interpolation-filters="sRGB"><feGaussianBlur stdDeviation="1.3"/></filter></defs>
<defs><linearGradient id="kn" x1="0" y1="0" x2="1" y2="1"><stop offset="0" stop-color="#6a6a6a"/><stop offset="0.35" stop-color="#d8d8d8"/><stop offset="0.55" stop-color="#8a8a8a"/><stop offset="0.8" stop-color="#cfcfcf"/><stop offset="1" stop-color="#555"/></linearGradient></defs>
<path d="M1153 242.5H1365L1384.4 252.3H1131.6Z" fill="#1c1c1c"/>
<path d="M1160 244L1155.06 251" stroke="#3a3a3a" stroke-width="1.2"/>
<path d="M1168 244L1163.3 251" stroke="#3a3a3a" stroke-width="1.2"/>
<path d="M1176 244L1171.54 251" stroke="#3a3a3a" stroke-width="1.2"/>
<path d="M1184 244L1179.78 251" stroke="#3a3a3a" stroke-width="1.2"/>
<path d="M1192 244L1188.02 251" stroke="#3a3a3a" stroke-width="1.2"/>
<path d="M1200 244L1196.26 251" stroke="#3a3a3a" stroke-width="1.2"/>
<path d="M1208 244L1204.5 251" stroke="#3a3a3a" stroke-width="1.2"/>
<path d="M1216 244L1212.74 251" stroke="#3a3a3a" stroke-width="1.2"/>
<path d="M1224 244L1220.98 251" stroke="#3a3a3a" stroke-width="1.2"/>
<path d="M1232 244L1229.22 251" stroke="#3a3a3a" stroke-width="1.2"/>
<path d="M1240 244L1237.46 251" stroke="#3a3a3a" stroke-width="1.2"/>
<path d="M1248 244L1245.7 251" stroke="#3a3a3a" stroke-width="1.2"/>
<path d="M1256 244L1253.94 251" stroke="#3a3a3a" stroke-width="1.2"/>
<path d="M1264 244L1262.18 251" stroke="#3a3a3a" stroke-width="1.2"/>
<path d="M1272 244L1270.42 251" stroke="#3a3a3a" stroke-width="1.2"/>
<path d="M1280 244L1278.66 251" stroke="#3a3a3a" stroke-width="1.2"/>
<path d="M1288 244L1286.9 251" stroke="#3a3a3a" stroke-width="1.2"/>
<path d="M1296 244L1295.14 251" stroke="#3a3a3a" stroke-width="1.2"/>
<path d="M1304 244L1303.38 251" stroke="#3a3a3a" stroke-width="1.2"/>
<path d="M1312 244L1311.62 251" stroke="#3a3a3a" stroke-width="1.2"/>
<path d="M1320 244L1319.86 251" stroke="#3a3a3a" stroke-width="1.2"/>
<path d="M1328 244L1328.1 251" stroke="#3a3a3a" stroke-width="1.2"/>
<path d="M1336 244L1336.34 251" stroke="#3a3a3a" stroke-width="1.2"/>
<path d="M1344 244L1344.58 251" stroke="#3a3a3a" stroke-width="1.2"/>
<path d="M1352 244L1352.82 251" stroke="#3a3a3a" stroke-width="1.2"/>
<path d="M1360 244L1361.06 251" stroke="#3a3a3a" stroke-width="1.2"/>
<rect x="1131.6" y="252.3" width="252.8" height="79.8" rx="2" fill="#111"/>
<rect x="1131.6" y="329" width="252.8" height="3.5" fill="#000"/>
<rect x="1148" y="256.5" width="16" height="2.5" fill="#aaa"/>
<rect x="1189.6" y="267" width="137.2" height="23.5" fill="#060606"/>
<rect x="1227.6" y="274.5" width="23" height="7" fill="#9a9fa9" opacity="0.75"/><rect x="1264" y="275" width="22" height="6.5" fill="#9a9fa9" opacity="0.65"/>
<rect x="1189.6" y="296" width="137.2" height="2" fill="#bfbfbf"/>
<path d="M1189.6 301H1326.8" stroke="#444" stroke-width="1.5" stroke-dasharray="7 5"/>
<rect x="1189.6" y="304" width="137.2" height="26" fill="#0b0b0b"/>
<defs><clipPath id="kc1161"><circle cx="1161.2" cy="281.6" r="12"/></clipPath></defs><circle cx="1161.2" cy="281.6" r="14.2" fill="#060606"/><g clip-path="url(#kc1161)"><circle cx="1161.2" cy="281.6" r="12" fill="#858585"/><g filter="url(#knb)"><path d="M1161.2 281.6L1150.81 287.6A12 12 0 0 1 1150.32 276.53Z" fill="#dcdcdc" opacity="1"/><path d="M1161.2 281.6L1172.08 276.53A12 12 0 0 1 1172.08 286.67Z" fill="#d4d4d4" opacity="1"/><path d="M1161.2 281.6L1155.2 271.21A12 12 0 0 1 1167.2 271.21Z" fill="#4a4a4a" opacity="1"/><path d="M1161.2 281.6L1168.08 291.43A12 12 0 0 1 1155.2 291.99Z" fill="#505050" opacity="1"/><path d="M1161.2 281.6L1150.32 276.53A12 12 0 0 1 1155.2 271.21Z" fill="#9a9a9a" opacity="1"/><path d="M1161.2 281.6L1167.2 271.21A12 12 0 0 1 1172.08 276.53Z" fill="#b8b8b8" opacity="1"/></g></g><circle cx="1161.2" cy="281.6" r="11.4" fill="none" stroke="#5a5a5a" stroke-width="1.2"/>
<defs><clipPath id="kc1354"><circle cx="1354.5" cy="281.6" r="16"/></clipPath></defs><circle cx="1354.5" cy="281.6" r="18.2" fill="#060606"/><g clip-path="url(#kc1354)"><circle cx="1354.5" cy="281.6" r="16" fill="#858585"/><g filter="url(#knb)"><path d="M1354.5 281.6L1340.64 289.6A16 16 0 0 1 1340 274.84Z" fill="#dcdcdc" opacity="1"/><path d="M1354.5 281.6L1369 274.84A16 16 0 0 1 1369 288.36Z" fill="#d4d4d4" opacity="1"/><path d="M1354.5 281.6L1346.5 267.74A16 16 0 0 1 1362.5 267.74Z" fill="#4a4a4a" opacity="1"/><path d="M1354.5 281.6L1363.68 294.71A16 16 0 0 1 1346.5 295.46Z" fill="#505050" opacity="1"/><path d="M1354.5 281.6L1340 274.84A16 16 0 0 1 1346.5 267.74Z" fill="#9a9a9a" opacity="1"/><path d="M1354.5 281.6L1362.5 267.74A16 16 0 0 1 1369 274.84Z" fill="#b8b8b8" opacity="1"/></g></g><circle cx="1354.5" cy="281.6" r="15.4" fill="none" stroke="#5a5a5a" stroke-width="1.2"/>
<circle cx="1161" cy="320.5" r="3.4" fill="#555"/><circle cx="1161" cy="311.5" r="1.2" fill="#c8a020"/>
<circle cx="1203" cy="321.5" r="3.4" fill="#999"/><circle cx="1203" cy="321.5" r="1.8" fill="#111"/>
<rect x="1294" y="319.5" width="9" height="4" fill="#777"/><rect x="1310" y="321" width="8" height="3" fill="#555"/>
<rect x="1419.2" y="231.5" width="70" height="106" rx="5" fill="#2f2f2f"/><rect x="1431.2" y="233" width="46" height="103" fill="#373737"/><circle cx="1454.2" cy="250.3" r="7" fill="#222"/><circle cx="1454.2" cy="250.3" r="4.2" fill="#151515"/><circle cx="1454.2" cy="297" r="24.5" fill="#242424"/><circle cx="1454.2" cy="297" r="19.8" fill="#6e6e6e"/><circle cx="1454.2" cy="297" r="15.8" fill="#5c5c5c"/><circle cx="1454.2" cy="297" r="12.5" fill="#303030"/>
<rect x="1504.4" y="231.5" width="70" height="106" rx="5" fill="#2f2f2f"/><rect x="1516.4" y="233" width="46" height="103" fill="#373737"/><circle cx="1539.4" cy="250.3" r="7" fill="#222"/><circle cx="1539.4" cy="250.3" r="4.2" fill="#151515"/><circle cx="1539.4" cy="297" r="24.5" fill="#242424"/><circle cx="1539.4" cy="297" r="19.8" fill="#6e6e6e"/><circle cx="1539.4" cy="297" r="15.8" fill="#5c5c5c"/><circle cx="1539.4" cy="297" r="12.5" fill="#303030"/>
<!-- p6_src -->
<path d="M233 734.5H452L472.6 746.5H209.6Z" fill="#1d1f23"/>
<rect x="209.6" y="746" width="263" height="38.5" rx="1" fill="#0e0f12"/>
<rect x="209.6" y="781.5" width="263" height="3" fill="#1c1d20"/>
<rect x="253.5" y="758.3" width="177.5" height="14.5" fill="#050506"/>
<rect x="220" y="751.5" width="21" height="2.4" fill="#9a9a9a"/>
<rect x="265" y="765" width="30" height="3.6" fill="#6a6f78" opacity="0.8"/>
<rect x="335" y="761" width="12" height="5" fill="#4a6a9a" opacity="0.8"/>
<rect x="392" y="762" width="3" height="4" fill="#9aa"/>
<circle cx="229" cy="769" r="1.5" fill="#4a4aa0"/>
<path d="M300 780H372" stroke="#3a3a3a" stroke-width="1.6" stroke-dasharray="5 4"/>
<rect x="407" y="777" width="9" height="3" fill="#444"/><rect x="421" y="777" width="9" height="3" fill="#444"/>
<circle cx="450.5" cy="756.0" r="2.6" fill="none" stroke="#555" stroke-width="1"/>
<circle cx="450.5" cy="773.0" r="2.6" fill="none" stroke="#555" stroke-width="1"/>
<circle cx="441.5" cy="764.5" r="2.6" fill="none" stroke="#555" stroke-width="1"/>
<circle cx="459.5" cy="764.5" r="2.6" fill="none" stroke="#555" stroke-width="1"/>
<circle cx="450.5" cy="764.5" r="2.6" fill="none" stroke="#555" stroke-width="1"/>
<defs><linearGradient id="mbb" x1="0" y1="0" x2="1" y2="0"><stop offset="0" stop-color="#8b8b8b"/><stop offset="0.04" stop-color="#e6e6e6"/><stop offset="0.5" stop-color="#cfcfcf"/><stop offset="0.96" stop-color="#e6e6e6"/><stop offset="1" stop-color="#8b8b8b"/></linearGradient></defs>
<rect x="228.3" y="838.5" width="223.3" height="140.5" rx="5" fill="#0a0a0a"/>
<defs><clipPath id="mgc"><rect x="0" y="0" width="1900" height="1030"/></clipPath><radialGradient id="mgg" cx="0.5" cy="0.5" r="0.5"><stop offset="0" stop-color="#fff6d2"/><stop offset="0.2" stop-color="#f3e8bc"/><stop offset="0.45" stop-color="#d3d2b4" stop-opacity="0.85"/><stop offset="0.75" stop-color="#7f9fb4" stop-opacity="0.4"/><stop offset="1" stop-color="#3f6f99" stop-opacity="0"/></radialGradient><radialGradient id="mgb" cx="0.55" cy="0.55" r="0.8"><stop offset="0" stop-color="#386690"/><stop offset="0.5" stop-color="#264e74"/><stop offset="0.8" stop-color="#15304a"/><stop offset="1" stop-color="#0b1a2a"/></radialGradient><filter color-interpolation-filters="sRGB" id="mgf" x="-30%" y="-30%" width="160%" height="160%"><feGaussianBlur stdDeviation="70"/></filter><filter color-interpolation-filters="sRGB" id="mgf2" x="-30%" y="-30%" width="160%" height="160%"><feGaussianBlur stdDeviation="14"/></filter></defs><g transform="translate(233.3 844.6) scale(0.11142 0.12136)"><g clip-path="url(#mgc)"><rect x="0" y="0" width="1900" height="1030" fill="url(#mgb)"/><g filter="url(#mgf)"><ellipse cx="60" cy="40" rx="560" ry="300" fill="#050d17" opacity="0.24"/><ellipse cx="1900" cy="1040" rx="430" ry="250" fill="#07111d" opacity="0.28"/><g transform="rotate(-27 1050 620)"><ellipse cx="1100" cy="700" rx="1050" ry="270" fill="#4f82ac" opacity="0.85"/><ellipse cx="1150" cy="610" rx="950" ry="120" fill="#6a9bc2" opacity="0.75"/></g></g><g transform="rotate(-26 930 500)"><ellipse cx="930" cy="465" rx="700" ry="215" fill="url(#mgg)"/><ellipse cx="960" cy="505" rx="210" ry="42" fill="#fffbe6" filter="url(#mgf2)"/></g><g filter="url(#mgf2)" fill="none" stroke-linecap="round"><path d="M470 770Q1100 640 1860 70" stroke="#4f80aa" stroke-width="95" opacity="0.9"/><path d="M640 700Q1100 585 1800 95" stroke="#1d3c5a" stroke-width="34" opacity="0.85"/><path d="M520 800Q1150 690 1880 160" stroke="#7fa9cc" stroke-width="26" opacity="0.6"/><path d="M760 760Q1200 640 1700 330" stroke="#244868" stroke-width="22" opacity="0.7"/></g><circle cx="859.52" cy="576.57" r="6" fill="#e6eef8" opacity="0.7"/><circle cx="1624.59" cy="195.6" r="7" fill="#e6eef8" opacity="0.71"/><circle cx="1166.52" cy="191.76" r="6" fill="#e6eef8" opacity="0.62"/><circle cx="172.27" cy="833.93" r="3" fill="#e6eef8" opacity="0.78"/><circle cx="752.7" cy="466.58" r="7" fill="#e6eef8" opacity="0.81"/><circle cx="1183.94" cy="856.65" r="3" fill="#e6eef8" opacity="0.48"/><circle cx="361.4" cy="249.2" r="3" fill="#e6eef8" opacity="0.88"/><circle cx="619.96" cy="608.69" r="3.5" fill="#e6eef8" opacity="0.74"/><circle cx="1216.55" cy="514.77" r="3" fill="#e6eef8" opacity="0.7"/><circle cx="528.51" cy="1027.59" r="3" fill="#e6eef8" opacity="0.84"/><circle cx="599.03" cy="236.56" r="4.5" fill="#e6eef8" opacity="0.47"/><circle cx="1069.97" cy="111.16" r="3" fill="#e6eef8" opacity="0.92"/><circle cx="734.38" cy="986.78" r="3" fill="#e6eef8" opacity="0.57"/><circle cx="1761.38" cy="53.89" r="6" fill="#e6eef8" opacity="0.99"/><circle cx="755.11" cy="75.23" r="3.5" fill="#e6eef8" opacity="0.88"/><circle cx="512.57" cy="89.76" r="4.5" fill="#e6eef8" opacity="0.46"/><circle cx="779.1" cy="950.53" r="3.5" fill="#e6eef8" opacity="0.59"/><circle cx="191.99" cy="61.69" r="6" fill="#e6eef8" opacity="0.55"/><circle cx="1062.66" cy="460.85" r="3.5" fill="#e6eef8" opacity="0.99"/><circle cx="1462.09" cy="431.81" r="6" fill="#e6eef8" opacity="0.51"/><circle cx="799.44" cy="219.25" r="4.5" fill="#e6eef8" opacity="0.93"/><circle cx="1852.23" cy="610.52" r="3" fill="#e6eef8" opacity="0.57"/><circle cx="749.12" cy="880.01" r="7" fill="#e6eef8" opacity="0.51"/><circle cx="1879.67" cy="219.64" r="4.5" fill="#e6eef8" opacity="0.46"/><circle cx="1159.63" cy="855.2" r="6" fill="#e6eef8" opacity="0.49"/><circle cx="171.22" cy="600.22" r="3.5" fill="#e6eef8" opacity="0.46"/><circle cx="700.48" cy="640.81" r="3.5" fill="#e6eef8" opacity="0.98"/><circle cx="919.08" cy="591.81" r="6" fill="#e6eef8" opacity="0.55"/><circle cx="292.86" cy="935.68" r="7" fill="#e6eef8" opacity="0.59"/><circle cx="360.62" cy="761.61" r="7" fill="#e6eef8" opacity="0.56"/><circle cx="1805.26" cy="908.66" r="7" fill="#e6eef8" opacity="0.49"/><circle cx="90.06" cy="112.32" r="7" fill="#e6eef8" opacity="0.98"/><circle cx="452.97" cy="725.72" r="4.5" fill="#e6eef8" opacity="0.68"/><circle cx="1719.17" cy="505.73" r="7" fill="#e6eef8" opacity="0.55"/><circle cx="1368.67" cy="70.84" r="3.5" fill="#e6eef8" opacity="0.71"/><circle cx="1241.66" cy="634.35" r="3" fill="#e6eef8" opacity="0.6"/><circle cx="1742.98" cy="210.1" r="3" fill="#e6eef8" opacity="0.49"/><circle cx="781.71" cy="256.54" r="3" fill="#e6eef8" opacity="0.55"/><circle cx="700.69" cy="589.33" r="3.5" fill="#e6eef8" opacity="0.5"/><circle cx="262.98" cy="463.86" r="4.5" fill="#e6eef8" opacity="0.81"/><circle cx="1313.32" cy="601.97" r="3.5" fill="#e6eef8" opacity="0.77"/><circle cx="1754.82" cy="489.04" r="4.5" fill="#e6eef8" opacity="0.84"/><circle cx="1829.26" cy="21.9" r="3" fill="#e6eef8" opacity="0.72"/><circle cx="1387.95" cy="328.47" r="3" fill="#e6eef8" opacity="0.49"/></g></g>
<rect x="328" y="972" width="24" height="2" fill="#555"/>
<path d="M202 977.5H477.8V982Q477.8 986 470 986H210Q202 986 202 982Z" fill="url(#mbb)"/>
<path d="M203 984.2H477Q476 986.2 470 986.2H210Q204 986.2 203 984.2Z" fill="#777"/>
<path d="M320 977.5H358V979Q358 981.5 354 981.5H324Q320 981.5 320 979Z" fill="#9a9a9a"/>
<defs><radialGradient id="tbg" cx="0.5" cy="0.35" r="0.6"><stop offset="0" stop-color="#3a3f45"/><stop offset="0.6" stop-color="#262a2f"/><stop offset="1" stop-color="#17191d"/></radialGradient></defs>
<path d="M220.5 1108C221 1085 232 1062 262 1057.5C300 1052.5 378 1052.5 416 1057.5C446 1062 456.5 1085 457.5 1108C458 1117 450 1122 440 1124C400 1131.5 278 1131.5 238 1124C228 1122 220 1117 220.5 1108Z" fill="url(#tbg)"/>
<path d="M221 1110C240 1121.5 300 1124.5 339 1124.5C378 1124.5 438 1121.5 457 1110C457.5 1118 450 1122 440 1124C400 1131.5 278 1131.5 238 1124C228 1122 220.5 1118 221 1110Z" fill="#0f1013"/>
<rect x="293" y="1119.5" width="91" height="5" rx="1" fill="#08080a"/>
<rect x="326.5" y="1097.2" width="3.4" height="2.6" fill="#c8ccd0"/>
<rect x="333.5" y="1097.2" width="3.4" height="2.6" fill="#c8ccd0"/>
<rect x="340.5" y="1097.2" width="3.4" height="2.6" fill="#c8ccd0"/>
<rect x="347.5" y="1097.2" width="3.4" height="2.6" fill="#c8ccd0"/>
<path d="M213.5 1252.5L222 1238.5L233 1236.5L232 1253Z" fill="#3b2a9a"/>
<path d="M222 1243L228 1241L226.5 1249L221 1250Z" fill="#c8c0f0" opacity="0.8"/>
<path d="M231.8 1246C232 1222 243 1200 270 1196.5C305 1193 378 1193 413 1196.5C440 1200 450.5 1222 450.8 1246C451 1272 444 1285 425 1289.5C390 1295.5 292 1295.5 257 1289.5C238 1285 231.5 1272 231.8 1246Z" fill="#070708"/>
<path d="M236 1232C240 1212 250 1201 272 1198.5C305 1195.5 378 1195.5 411 1198.5C433 1201 443 1212 447 1232C410 1226.5 272 1226.5 236 1232Z" fill="#101013"/>
<path d="M236 1232C272 1226.5 410 1226.5 447 1232" fill="none" stroke="#4a4a4f" stroke-width="1.2"/>
<ellipse cx="339.5" cy="1212" rx="44" ry="10.5" fill="#26262a"/>
<path d="M290 1232C315 1226 345 1207 362 1197H380C372 1207 350 1222 330 1229.5Z" fill="#4a4a50" opacity="0.55"/>
<path d="M236 1270C270 1280 410 1280 447 1270" fill="none" stroke="#2a2a2e" stroke-width="1.2"/>
<rect x="417.5" y="1243.5" width="5" height="14" rx="2.5" fill="#fff"/>
<text x="248.5" y="1255.5" font-family="Liberation Sans, sans-serif" font-weight="bold" font-style="italic" font-size="8.6" fill="#e8e8e8" textLength="21" lengthAdjust="spacingAndGlyphs">Roku</text>
<text x="271.5" y="1256" font-family="Liberation Sans, sans-serif" font-size="9.5" fill="#bbb">3</text>
<!-- p7_tv -->
<defs><clipPath id="t1c"><rect x="55" y="48" width="1880" height="1017"/></clipPath><linearGradient id="t1sky" x1="0" y1="0" x2="0" y2="1"><stop offset="0" stop-color="#6f5a66"/><stop offset="0.45" stop-color="#8d6a66"/><stop offset="0.8" stop-color="#c47c4e"/><stop offset="1" stop-color="#b8683e"/></linearGradient><linearGradient id="t1city" x1="0" y1="0" x2="0" y2="1"><stop offset="0" stop-color="#9a6048"/><stop offset="0.3" stop-color="#7e5346"/><stop offset="1" stop-color="#5e3d34"/></linearGradient><radialGradient id="t1sun" cx="0.5" cy="0.5" r="0.5"><stop offset="0" stop-color="#fffbe0"/><stop offset="0.18" stop-color="#ffe9a0"/><stop offset="0.45" stop-color="#ffb060" stop-opacity="0.85"/><stop offset="1" stop-color="#e07838" stop-opacity="0"/></radialGradient><filter color-interpolation-filters="sRGB" id="b30" x="-30%" y="-30%" width="160%" height="160%"><feGaussianBlur stdDeviation="28"/></filter><filter color-interpolation-filters="sRGB" id="b12" x="-30%" y="-30%" width="160%" height="160%"><feGaussianBlur stdDeviation="10"/></filter><filter color-interpolation-filters="sRGB" id="b4" x="-10%" y="-10%" width="120%" height="120%"><feGaussianBlur stdDeviation="3"/></filter></defs><g transform="translate(960 805) scale(0.215)"><g clip-path="url(#t1c)"><rect x="55" y="48" width="1880" height="340" fill="url(#t1sky)" /><rect x="55" y="380" width="1880" height="690" fill="url(#t1city)" /><g filter="url(#b30)"><ellipse cx="280" cy="120" rx="260" ry="70" fill="#d2a184" /><ellipse cx="150" cy="230" rx="120" ry="40" fill="#6e9490" /><ellipse cx="300" cy="300" rx="300" ry="60" fill="#c98a5c" /><ellipse cx="900" cy="130" rx="440" ry="85" fill="#463648" /><ellipse cx="1300" cy="60" rx="500" ry="50" fill="#5a4858" /><ellipse cx="1250" cy="150" rx="150" ry="55" fill="#e0a07a" /><ellipse cx="1650" cy="260" rx="320" ry="80" fill="#3a3a5e" /><ellipse cx="1850" cy="420" rx="200" ry="60" fill="#4a4666" /><ellipse cx="1800" cy="110" rx="170" ry="50" fill="#c79a86" /><ellipse cx="700" cy="265" rx="400" ry="45" fill="#ec9656" /><ellipse cx="1500" cy="210" rx="260" ry="30" fill="#e89a60" /><ellipse cx="330" cy="190" rx="250" ry="30" fill="#e8a070" /><ellipse cx="900" cy="330" rx="500" ry="35" fill="#8a5a52" /><ellipse cx="1500" cy="340" rx="350" ry="30" fill="#d98a52" /></g><ellipse cx="1120" cy="290" rx="230" ry="95" fill="url(#t1sun)" /><ellipse cx="1120" cy="292" rx="60" ry="42" fill="#fffbe6" filter="url(#b12)"/><g filter="url(#b12)"><rect x="55" y="365" width="1880" height="50" fill="#c47a4c" /><rect x="55" y="420" width="900" height="130" fill="#8f5e50" /><rect x="950" y="420" width="1000" height="120" fill="#7c5a5e" /><rect x="1450" y="470" width="500" height="160" fill="#5f5366" /></g><path d="M1010 540 L1180 578 L1460 600 L1860 640 L1860 780 L1660 760 L1500 720 L1470 660 L1180 632 L1010 600Z" fill="#66769f" filter="url(#b4)"/><path d="M1010 555 L1180 590 L1330 600 L1330 620 L1180 618 L1010 590Z" fill="#8a98ba" filter="url(#b4)"/><g filter="url(#b4)"><rect x="70" y="490" width="200" height="520" fill="#b66c3c" /><rect x="70" y="470" width="200" height="30" fill="#c9a48a" /><rect x="140" y="650" width="170" height="260" fill="#c07a4a" /><rect x="270" y="470" width="80" height="140" fill="#4a3030" /><rect x="300" y="610" width="110" height="230" fill="#a06a50" /><rect x="390" y="560" width="110" height="280" fill="#3a2826" /><rect x="500" y="500" width="90" height="200" fill="#7a5446" /><rect x="600" y="650" width="200" height="420" fill="#261a1c" /><rect x="620" y="500" width="70" height="150" fill="#4a3634" /><rect x="690" y="440" width="50" height="200" fill="#9a7a6a" /><rect x="760" y="520" width="70" height="130" fill="#33262a" /><rect x="845" y="410" width="62" height="225" fill="#241c26" /><rect x="810" y="640" width="140" height="300" fill="#8a6250" /><rect x="950" y="680" width="170" height="330" fill="#2b1e22" /><rect x="930" y="530" width="70" height="100" fill="#3a2c30" /><rect x="1040" y="560" width="130" height="100" fill="#4a3c40" /><rect x="1130" y="650" width="160" height="320" fill="#30242a" /><rect x="1290" y="660" width="100" height="260" fill="#3a2a2c" /><rect x="1330" y="545" width="110" height="118" fill="#252230" /><rect x="1432" y="552" width="18" height="110" fill="#d8d0d0" /><rect x="1400" y="680" width="70" height="220" fill="#5a3034" /><rect x="1455" y="650" width="22" height="240" fill="#c0383c" /><rect x="1540" y="660" width="100" height="260" fill="#3e2a30" /><rect x="1540" y="420" width="36" height="90" fill="#3a3a52" /><rect x="1860" y="640" width="80" height="260" fill="#4a3034" /><rect x="150" y="780" width="160" height="290" fill="#a86a42" /><rect x="300" y="850" width="100" height="220" fill="#c4a490" /><rect x="410" y="800" width="120" height="270" fill="#6a5048" /><rect x="530" y="810" width="140" height="260" fill="#2a1e20" /><rect x="780" y="850" width="120" height="220" fill="#7a6a62" /><rect x="900" y="840" width="130" height="230" fill="#5a4640" /><rect x="1170" y="860" width="95" height="210" fill="#b39484" /><rect x="1040" y="920" width="130" height="150" fill="#3a2c2c" /><rect x="1290" y="900" width="120" height="170" fill="#4a3634" /><rect x="1500" y="860" width="140" height="210" fill="#9a7a6c" /><rect x="1720" y="760" width="90" height="310" fill="#a88a84" /><rect x="1650" y="780" width="70" height="290" fill="#5a4040" /><rect x="1810" y="800" width="125" height="270" fill="#5e4448" /><rect x="1400" y="900" width="100" height="170" fill="#806058" /><rect x="55" y="940" width="100" height="130" fill="#6a4434" /><path d="M690 440 L715 400 L740 440Z" fill="#9a7a6a" /></g><rect x="504.99" y="520.17" width="14.14" height="33.69" fill="#e0b090" opacity="0.75"/><rect x="1089.97" y="439.1" width="21.78" height="23.11" fill="#7a6078" opacity="0.75"/><rect x="950.78" y="541.99" width="9.31" height="37.49" fill="#7a6078" opacity="0.75"/><rect x="789.18" y="398.48" width="23.1" height="11.29" fill="#c98f6c" opacity="0.75"/><rect x="623.37" y="402.13" width="25.04" height="18.06" fill="#3a2a30" opacity="0.75"/><rect x="1557.7" y="497.26" width="26.58" height="41.75" fill="#e0b090" opacity="0.75"/><rect x="127.11" y="508.82" width="11.68" height="35.21" fill="#b57a58" opacity="0.75"/><rect x="847.55" y="586.7" width="18.63" height="37.11" fill="#3a2a30" opacity="0.75"/><rect x="1797.13" y="591.97" width="20.77" height="17.04" fill="#8a6a70" opacity="0.75"/><rect x="1863.86" y="603.08" width="18.52" height="49.01" fill="#4a3236" opacity="0.75"/><rect x="292.69" y="505.86" width="20.05" height="27.32" fill="#8a6a70" opacity="0.75"/><rect x="1557.11" y="489.41" width="9.32" height="18.87" fill="#3a2a30" opacity="0.75"/><rect x="1692.07" y="405.16" width="19.52" height="8.98" fill="#8a6a70" opacity="0.75"/><rect x="501.23" y="403.28" width="6.16" height="10.32" fill="#7a6078" opacity="0.75"/><rect x="118.68" y="440.4" width="14.97" height="25.2" fill="#6a4640" opacity="0.75"/><rect x="733.57" y="426.81" width="24.96" height="17.69" fill="#7a6078" opacity="0.75"/><rect x="782.18" y="594.37" width="20.98" height="13.73" fill="#7a6078" opacity="0.75"/><rect x="567.33" y="540.89" width="21.74" height="51.32" fill="#3a2a30" opacity="0.75"/><rect x="1888.48" y="514.86" width="18.07" height="8.48" fill="#3a2a30" opacity="0.75"/><rect x="1906.54" y="467.42" width="14.28" height="27.46" fill="#6a4640" opacity="0.75"/><rect x="172.35" y="539.29" width="16.26" height="39.23" fill="#8a6a70" opacity="0.75"/><rect x="1198.58" y="459.15" width="16.77" height="26.59" fill="#c98f6c" opacity="0.75"/><rect x="1861.38" y="452.76" width="16.04" height="26.02" fill="#8a6a70" opacity="0.75"/><rect x="391.78" y="437.61" width="22.68" height="31.35" fill="#b57a58" opacity="0.75"/><rect x="621.76" y="481.75" width="22.99" height="8.96" fill="#6a4640" opacity="0.75"/><rect x="639.73" y="446.18" width="23.68" height="14.97" fill="#6a4640" opacity="0.75"/><rect x="1327.98" y="544.39" width="8.13" height="36.17" fill="#8a6a70" opacity="0.75"/><rect x="1322.11" y="446.63" width="23.81" height="36.14" fill="#e0b090" opacity="0.75"/><rect x="689.65" y="544.55" width="25.47" height="29.17" fill="#4a3236" opacity="0.75"/><rect x="1531.7" y="402.8" width="27.07" height="14.75" fill="#6a4640" opacity="0.75"/><rect x="1675.17" y="473.23" width="24.21" height="10.92" fill="#8a6a70" opacity="0.75"/><rect x="1162.33" y="491.89" width="17.4" height="39.82" fill="#d8a888" opacity="0.75"/><rect x="707.68" y="490.89" width="15.23" height="23.26" fill="#3a2a30" opacity="0.75"/><rect x="351.72" y="396.07" width="26.75" height="25.77" fill="#7a6078" opacity="0.75"/><rect x="872.24" y="613.54" width="26.4" height="21.18" fill="#d8a888" opacity="0.75"/><rect x="600.51" y="473.45" width="11" height="10.32" fill="#b57a58" opacity="0.75"/><rect x="284.39" y="451.24" width="6.77" height="32.19" fill="#7a6078" opacity="0.75"/><rect x="1787.61" y="601.21" width="18.69" height="8.75" fill="#e0b090" opacity="0.75"/><rect x="381.31" y="463.97" width="20.58" height="25.02" fill="#3a2a30" opacity="0.75"/><rect x="159.57" y="605.01" width="8.5" height="15.25" fill="#7a6078" opacity="0.75"/><rect x="952.36" y="574.93" width="13.74" height="18.34" fill="#7a6078" opacity="0.75"/><rect x="1719.88" y="422.42" width="11.27" height="14.83" fill="#6a4640" opacity="0.75"/><rect x="1599.94" y="396.73" width="19.83" height="25.52" fill="#c98f6c" opacity="0.75"/><rect x="1474.63" y="452.1" width="19.6" height="23.73" fill="#c98f6c" opacity="0.75"/><rect x="944.32" y="573.59" width="6.04" height="10.86" fill="#6a4640" opacity="0.75"/><rect x="146.37" y="406.46" width="16.62" height="8.73" fill="#e0b090" opacity="0.75"/><rect x="1023.81" y="507.7" width="9.45" height="10.89" fill="#3a2a30" opacity="0.75"/><rect x="1269.73" y="529.92" width="13.94" height="16.46" fill="#8a6a70" opacity="0.75"/><rect x="861.67" y="424.35" width="6.08" height="26.28" fill="#e0b090" opacity="0.75"/><rect x="1119.79" y="404.88" width="16.14" height="22.16" fill="#7a6078" opacity="0.75"/><rect x="771.09" y="579.27" width="19.7" height="30.95" fill="#8a6a70" opacity="0.75"/><rect x="1837.04" y="491.21" width="6.39" height="16.16" fill="#b57a58" opacity="0.75"/><rect x="1359.97" y="411.46" width="15.35" height="17.78" fill="#c98f6c" opacity="0.75"/><rect x="1811.23" y="481.07" width="25.75" height="36.07" fill="#b57a58" opacity="0.75"/><rect x="287.11" y="553.83" width="26.66" height="43.54" fill="#7a6078" opacity="0.75"/><rect x="1114.39" y="418.72" width="18.93" height="8.12" fill="#6a4640" opacity="0.75"/><rect x="501.26" y="484.39" width="17.6" height="28.37" fill="#3a2a30" opacity="0.75"/><rect x="395.02" y="400.4" width="24.51" height="10.54" fill="#e0b090" opacity="0.75"/><rect x="1319.51" y="587.32" width="18.74" height="51.63" fill="#c98f6c" opacity="0.75"/><rect x="1922.98" y="524.64" width="17.64" height="18.33" fill="#7a6078" opacity="0.75"/><rect x="666.34" y="524.71" width="24.22" height="18.5" fill="#6a4640" opacity="0.75"/><rect x="1267.97" y="499.45" width="21.4" height="44.58" fill="#b57a58" opacity="0.75"/><rect x="747.17" y="486.23" width="13.71" height="23.23" fill="#e0b090" opacity="0.75"/><rect x="761.86" y="449.11" width="26.45" height="33.09" fill="#6a4640" opacity="0.75"/><rect x="836.56" y="525.73" width="18.76" height="48.22" fill="#d8a888" opacity="0.75"/><rect x="352.05" y="487.24" width="25.53" height="13.95" fill="#d8a888" opacity="0.75"/><rect x="888.51" y="560.35" width="10.09" height="21.3" fill="#4a3236" opacity="0.75"/><rect x="334.06" y="513.59" width="26.57" height="43.21" fill="#7a6078" opacity="0.75"/><rect x="1842.91" y="463.05" width="21.52" height="21.33" fill="#b57a58" opacity="0.75"/><rect x="1723.2" y="465.66" width="11.9" height="34.31" fill="#4a3236" opacity="0.75"/><rect x="382.1" y="477.91" width="13.08" height="35.04" fill="#6a4640" opacity="0.75"/><rect x="842.44" y="555.44" width="21.43" height="18.06" fill="#7a6078" opacity="0.75"/><rect x="111.93" y="623.34" width="7.59" height="65.9" fill="#c98f6c" opacity="0.75"/><rect x="934.03" y="447.81" width="11.17" height="29.18" fill="#e0b090" opacity="0.75"/><rect x="414.6" y="454.48" width="10.12" height="29.64" fill="#c98f6c" opacity="0.75"/><rect x="1742.55" y="453.65" width="25.03" height="17.58" fill="#3a2a30" opacity="0.75"/><rect x="230.09" y="578.75" width="8.6" height="22.02" fill="#b57a58" opacity="0.75"/><rect x="127.55" y="499.04" width="22.15" height="21.04" fill="#c98f6c" opacity="0.75"/><rect x="686.08" y="495.33" width="16.69" height="16" fill="#d8a888" opacity="0.75"/><rect x="791.02" y="520.2" width="8.62" height="19.69" fill="#3a2a30" opacity="0.75"/><rect x="270.43" y="599.05" width="25.99" height="13.5" fill="#8a6a70" opacity="0.75"/><rect x="1328.66" y="479.74" width="15.91" height="31.37" fill="#b57a58" opacity="0.75"/><rect x="260.4" y="612.22" width="13.45" height="41.45" fill="#7a6078" opacity="0.75"/><rect x="271.86" y="508.59" width="13.75" height="37.04" fill="#6a4640" opacity="0.75"/><rect x="753.36" y="606.6" width="15.99" height="14.29" fill="#7a6078" opacity="0.75"/><rect x="324.39" y="471.25" width="21.85" height="28.15" fill="#7a6078" opacity="0.75"/><rect x="622.06" y="437.99" width="16.61" height="29.7" fill="#e0b090" opacity="0.75"/><rect x="260.88" y="436.68" width="18.18" height="23.84" fill="#3a2a30" opacity="0.75"/><rect x="731.75" y="456.14" width="14.43" height="35.05" fill="#c98f6c" opacity="0.75"/><rect x="955.17" y="457.39" width="21.3" height="24.07" fill="#8a6a70" opacity="0.75"/><rect x="1827.23" y="498.09" width="23.8" height="10.67" fill="#d8a888" opacity="0.75"/><rect x="1643.67" y="420.79" width="11.95" height="10.46" fill="#e0b090" opacity="0.75"/><rect x="1365.58" y="525.43" width="20.74" height="25.01" fill="#6a4640" opacity="0.75"/><rect x="1166.88" y="428.69" width="14.77" height="13.05" fill="#7a6078" opacity="0.75"/><rect x="378.52" y="436.14" width="25.11" height="18.13" fill="#b57a58" opacity="0.75"/><rect x="116.26" y="579.73" width="25.61" height="58.55" fill="#3a2a30" opacity="0.75"/><rect x="650.82" y="603.42" width="12.81" height="36.63" fill="#7a6078" opacity="0.75"/><rect x="1344" y="463.86" width="24.92" height="23.68" fill="#4a3236" opacity="0.75"/><rect x="1419.18" y="395.55" width="22.95" height="21.3" fill="#d8a888" opacity="0.75"/><rect x="383.71" y="538.75" width="10.38" height="43.88" fill="#4a3236" opacity="0.75"/><rect x="129.31" y="510.1" width="20.21" height="26.09" fill="#b57a58" opacity="0.75"/><rect x="1541.74" y="538.35" width="7.11" height="24.48" fill="#4a3236" opacity="0.75"/><rect x="1006.13" y="509.68" width="6.42" height="21.8" fill="#8a6a70" opacity="0.75"/><rect x="1665" y="533.26" width="26.39" height="40.14" fill="#8a6a70" opacity="0.75"/><rect x="1925.99" y="442.17" width="7.39" height="13.7" fill="#4a3236" opacity="0.75"/><rect x="966.95" y="420.1" width="6.94" height="9.91" fill="#4a3236" opacity="0.75"/><rect x="1379.91" y="485.04" width="16.41" height="10.46" fill="#3a2a30" opacity="0.75"/><rect x="449.69" y="507.47" width="6.51" height="26.42" fill="#3a2a30" opacity="0.75"/><rect x="879.76" y="499.74" width="6.82" height="17.97" fill="#8a6a70" opacity="0.75"/><rect x="897.28" y="478.15" width="14.84" height="41.91" fill="#4a3236" opacity="0.75"/><rect x="543.72" y="480.01" width="24.82" height="26.85" fill="#6a4640" opacity="0.75"/><rect x="451.37" y="434.28" width="14.88" height="12.56" fill="#c98f6c" opacity="0.75"/><rect x="320.41" y="535" width="15.74" height="16.35" fill="#c98f6c" opacity="0.75"/><rect x="813.81" y="468.11" width="6.72" height="31.68" fill="#4a3236" opacity="0.75"/><rect x="814.18" y="486.22" width="6.59" height="43.16" fill="#4a3236" opacity="0.75"/><rect x="511.72" y="484.49" width="10.19" height="20.02" fill="#e0b090" opacity="0.75"/><rect x="707.69" y="423.51" width="7.14" height="26.29" fill="#b57a58" opacity="0.75"/><rect x="1895.01" y="611.66" width="23.36" height="64.74" fill="#d8a888" opacity="0.75"/><rect x="527.45" y="456.14" width="23.92" height="27.51" fill="#8a6a70" opacity="0.75"/><rect x="652.87" y="408.05" width="15.58" height="10" fill="#c98f6c" opacity="0.75"/><rect x="255.95" y="551.59" width="6.42" height="32.24" fill="#d8a888" opacity="0.75"/><rect x="160.87" y="545.49" width="25.81" height="17.45" fill="#d8a888" opacity="0.75"/><rect x="695.77" y="505.09" width="13.73" height="34.22" fill="#3a2a30" opacity="0.75"/><rect x="629.83" y="534.59" width="26.82" height="11.96" fill="#b57a58" opacity="0.75"/><rect x="404.29" y="490" width="17.16" height="28.3" fill="#7a6078" opacity="0.75"/><rect x="1443.42" y="563.81" width="18.17" height="54.53" fill="#8a6a70" opacity="0.75"/><rect x="1559.16" y="495.84" width="15.78" height="34.81" fill="#8a6a70" opacity="0.75"/><rect x="563.89" y="434.04" width="21.85" height="24.37" fill="#3a2a30" opacity="0.75"/><rect x="1835.48" y="404.83" width="9.78" height="24.36" fill="#d8a888" opacity="0.75"/><rect x="232.03" y="554.13" width="20.53" height="23.57" fill="#c98f6c" opacity="0.75"/><rect x="752.07" y="411.57" width="14.79" height="29.96" fill="#e0b090" opacity="0.75"/><rect x="692.94" y="466.6" width="15.91" height="35.03" fill="#4a3236" opacity="0.75"/><rect x="510.08" y="406.23" width="9.36" height="22.19" fill="#c98f6c" opacity="0.75"/><rect x="269.64" y="461.13" width="10.59" height="35.14" fill="#7a6078" opacity="0.75"/><rect x="844.69" y="574.66" width="19.3" height="49.28" fill="#7a6078" opacity="0.75"/><rect x="1522.66" y="502.52" width="19.69" height="9.63" fill="#e0b090" opacity="0.75"/><rect x="1823.75" y="453.66" width="8.4" height="20.2" fill="#e0b090" opacity="0.75"/><rect x="1260.18" y="570.12" width="13.61" height="39.07" fill="#d8a888" opacity="0.75"/><rect x="1514.51" y="462.13" width="26.79" height="22.24" fill="#3a2a30" opacity="0.75"/><rect x="445.2" y="519.01" width="16.21" height="38.81" fill="#e0b090" opacity="0.75"/><rect x="698.73" y="439.15" width="22.58" height="33.82" fill="#8a6a70" opacity="0.75"/><rect x="850.73" y="544.13" width="19.33" height="18.03" fill="#8a6a70" opacity="0.75"/><rect x="1627" y="409.37" width="11.2" height="17.92" fill="#b57a58" opacity="0.75"/><rect x="467.45" y="433.02" width="26.48" height="27.5" fill="#d8a888" opacity="0.75"/><rect x="1801.62" y="518.21" width="15.21" height="47.99" fill="#3a2a30" opacity="0.75"/><rect x="965.44" y="572.9" width="14.95" height="59.88" fill="#c98f6c" opacity="0.75"/><rect x="606.12" y="609.86" width="10.06" height="13.63" fill="#6a4640" opacity="0.75"/><rect x="610.34" y="514.48" width="20.06" height="9.68" fill="#4a3236" opacity="0.75"/><rect x="576.09" y="494.45" width="13.59" height="36.13" fill="#b57a58" opacity="0.75"/><rect x="327.33" y="497.14" width="25.99" height="25.04" fill="#4a3236" opacity="0.75"/><rect x="346.51" y="570.43" width="21.41" height="58.36" fill="#8a6a70" opacity="0.75"/><rect x="1823.07" y="494.2" width="26.68" height="25.95" fill="#7a6078" opacity="0.75"/><rect x="476.29" y="615" width="12.34" height="9.75" fill="#8a6a70" opacity="0.75"/><rect x="513.67" y="580.53" width="6.22" height="15.02" fill="#7a6078" opacity="0.75"/><rect x="338.84" y="399.8" width="26.9" height="8.04" fill="#d8a888" opacity="0.75"/><rect x="723.65" y="617.1" width="13.98" height="41.15" fill="#d8a888" opacity="0.75"/><rect x="406.02" y="398.03" width="15.51" height="14.95" fill="#c98f6c" opacity="0.75"/><rect x="549.42" y="549.55" width="16.97" height="42.57" fill="#8a6a70" opacity="0.75"/><rect x="142.29" y="493.8" width="19.8" height="33.51" fill="#4a3236" opacity="0.75"/><rect x="1843.1" y="566.04" width="15.07" height="46.12" fill="#8a6a70" opacity="0.75"/><rect x="1091.97" y="459.31" width="9.71" height="8.54" fill="#c98f6c" opacity="0.75"/><rect x="1304.46" y="608.58" width="19.26" height="32.22" fill="#7a6078" opacity="0.75"/><rect x="1242.12" y="462.56" width="7.62" height="12.49" fill="#7a6078" opacity="0.75"/><rect x="249.93" y="573.06" width="15.77" height="22.49" fill="#b57a58" opacity="0.75"/><rect x="906.21" y="615.63" width="9.42" height="26.8" fill="#7a6078" opacity="0.75"/><rect x="130.61" y="506.68" width="11.07" height="26.4" fill="#b57a58" opacity="0.75"/><rect x="117.21" y="527.14" width="18.09" height="29.35" fill="#b57a58" opacity="0.75"/><rect x="873.8" y="412.45" width="6.74" height="19.27" fill="#d8a888" opacity="0.75"/><rect x="424.81" y="606.76" width="9.98" height="30.28" fill="#3a2a30" opacity="0.75"/><rect x="651.29" y="457.3" width="26.9" height="37.46" fill="#8a6a70" opacity="0.75"/><rect x="1201.76" y="522.69" width="6.78" height="25.94" fill="#3a2a30" opacity="0.75"/><rect x="1892.92" y="413.23" width="11.05" height="12.66" fill="#e0b090" opacity="0.75"/><rect x="1365.62" y="421.48" width="19.91" height="11.06" fill="#c98f6c" opacity="0.75"/><rect x="866.44" y="621.32" width="16.16" height="25.58" fill="#7a6078" opacity="0.75"/><rect x="148.15" y="449.27" width="27.07" height="12.29" fill="#6a4640" opacity="0.75"/><rect x="1350.33" y="502.49" width="14.75" height="8.34" fill="#3a2a30" opacity="0.75"/><rect x="162.06" y="569.68" width="9.88" height="17.75" fill="#6a4640" opacity="0.75"/><rect x="1695.91" y="406.22" width="27.14" height="19.77" fill="#3a2a30" opacity="0.75"/><rect x="1516.32" y="494.65" width="10" height="9" fill="#e0b090" opacity="0.75"/><rect x="305.56" y="428.41" width="8.79" height="17.17" fill="#e0b090" opacity="0.75"/><rect x="1807.61" y="396.71" width="14.16" height="10.89" fill="#d8a888" opacity="0.75"/><rect x="519.92" y="476.51" width="26.92" height="24.82" fill="#8a6a70" opacity="0.75"/><rect x="943.99" y="565.07" width="17.68" height="51.23" fill="#d8a888" opacity="0.75"/><rect x="1123.79" y="501.74" width="17.84" height="25.34" fill="#7a6078" opacity="0.75"/><rect x="913.19" y="483.3" width="22.65" height="18.61" fill="#6a4640" opacity="0.75"/><rect x="622.38" y="592.52" width="27.1" height="25.6" fill="#4a3236" opacity="0.75"/><rect x="303.83" y="533.82" width="7.25" height="35.64" fill="#6a4640" opacity="0.75"/><rect x="274.24" y="398.2" width="25.14" height="24.34" fill="#8a6a70" opacity="0.75"/><rect x="1070.51" y="496.47" width="9.22" height="30.97" fill="#8a6a70" opacity="0.75"/><rect x="913.16" y="524.65" width="20.01" height="33.61" fill="#8a6a70" opacity="0.75"/><rect x="1886.46" y="457.04" width="8.71" height="23.61" fill="#8a6a70" opacity="0.75"/><rect x="1422.95" y="452.18" width="15.56" height="16.08" fill="#6a4640" opacity="0.75"/><rect x="953.6" y="517.23" width="25.25" height="49.44" fill="#7a6078" opacity="0.75"/><rect x="840.61" y="521.47" width="19.43" height="20.45" fill="#4a3236" opacity="0.75"/><rect x="1657.88" y="483.33" width="27.59" height="21.16" fill="#4a3236" opacity="0.75"/><rect x="163.5" y="508.64" width="8.59" height="37.62" fill="#3a2a30" opacity="0.75"/><rect x="1390.25" y="478.15" width="12.61" height="25.67" fill="#3a2a30" opacity="0.75"/><rect x="881.4" y="603.81" width="21.08" height="14" fill="#d8a888" opacity="0.75"/><rect x="333.39" y="445.58" width="14.16" height="25.89" fill="#6a4640" opacity="0.75"/><rect x="1715.31" y="443.1" width="15.57" height="13.64" fill="#c98f6c" opacity="0.75"/><rect x="1438.96" y="585.53" width="26.09" height="31.97" fill="#e0b090" opacity="0.75"/><rect x="319.78" y="465.53" width="18.16" height="11.84" fill="#6a4640" opacity="0.75"/><rect x="1179.85" y="414.51" width="6.62" height="16.26" fill="#c98f6c" opacity="0.75"/><rect x="976.7" y="621.7" width="16.4" height="16.51" fill="#4a3236" opacity="0.75"/><rect x="1016.91" y="494.44" width="19.83" height="33.01" fill="#3a2a30" opacity="0.75"/><rect x="596.56" y="542.29" width="22.4" height="48.82" fill="#e0b090" opacity="0.75"/><rect x="885.95" y="568.32" width="27.82" height="11.38" fill="#c98f6c" opacity="0.75"/><rect x="666.59" y="604.91" width="19.89" height="13.44" fill="#8a6a70" opacity="0.75"/><rect x="663.44" y="544.14" width="27.08" height="10.43" fill="#7a6078" opacity="0.75"/><rect x="109.66" y="610.06" width="17.52" height="41.69" fill="#e0b090" opacity="0.75"/><rect x="396.58" y="583.8" width="24.13" height="57.57" fill="#3a2a30" opacity="0.75"/><rect x="592.24" y="620.88" width="20.55" height="40.05" fill="#4a3236" opacity="0.75"/><rect x="1131.65" y="473.83" width="18.94" height="27.9" fill="#8a6a70" opacity="0.75"/><rect x="1219.33" y="476.62" width="22.91" height="39.57" fill="#7a6078" opacity="0.75"/><rect x="440.7" y="408.77" width="15.52" height="15.02" fill="#4a3236" opacity="0.75"/><rect x="982.89" y="591.37" width="10.04" height="13.73" fill="#d8a888" opacity="0.75"/><rect x="283.9" y="605.12" width="14.74" height="20.26" fill="#6a4640" opacity="0.75"/><rect x="1471.43" y="470.2" width="11.43" height="37.51" fill="#c98f6c" opacity="0.75"/><rect x="502.77" y="479.39" width="10.92" height="18.03" fill="#8a6a70" opacity="0.75"/><rect x="552.47" y="554.65" width="13.48" height="13.42" fill="#4a3236" opacity="0.75"/><rect x="628.08" y="434.77" width="9.7" height="21.12" fill="#4a3236" opacity="0.75"/><rect x="462.83" y="549.29" width="19.41" height="16.4" fill="#7a6078" opacity="0.75"/><rect x="797.22" y="519.09" width="19.15" height="34.59" fill="#d8a888" opacity="0.75"/><rect x="760.14" y="413.08" width="17.8" height="18.63" fill="#c98f6c" opacity="0.75"/><rect x="1142.72" y="456.75" width="25.77" height="29.33" fill="#4a3236" opacity="0.75"/><rect x="787.72" y="510.15" width="16.68" height="24.54" fill="#d8a888" opacity="0.75"/><rect x="1477.67" y="421.41" width="15.22" height="29.4" fill="#6a4640" opacity="0.75"/><rect x="1151.04" y="419.76" width="17.62" height="28.81" fill="#d8a888" opacity="0.75"/><rect x="1236.8" y="429.95" width="26.28" height="17.85" fill="#c98f6c" opacity="0.75"/><rect x="1144.03" y="978.97" width="9.47" height="18.55" fill="#c48a62" opacity="0.6"/><rect x="1146.51" y="911.87" width="11.35" height="34.64" fill="#1e1416" opacity="0.6"/><rect x="1614.89" y="944.1" width="11.41" height="12.76" fill="#4a3430" opacity="0.6"/><rect x="846.35" y="770.22" width="8.99" height="32.67" fill="#2a1a1c" opacity="0.6"/><rect x="1106.27" y="777.34" width="7.41" height="50.78" fill="#4a3430" opacity="0.6"/><rect x="1762.24" y="823.53" width="16.91" height="44.58" fill="#1e1416" opacity="0.6"/><rect x="1088.24" y="768.23" width="20.92" height="54.46" fill="#2a1a1c" opacity="0.6"/><rect x="368.42" y="906.14" width="7.62" height="50.64" fill="#e8c0a0" opacity="0.6"/><rect x="1777.13" y="999.53" width="16.34" height="39.81" fill="#e8c0a0" opacity="0.6"/><rect x="951.86" y="914.71" width="10.07" height="30.26" fill="#2a1a1c" opacity="0.6"/><rect x="1823.22" y="819.3" width="14.55" height="30.36" fill="#3a2622" opacity="0.6"/><rect x="552.33" y="958.91" width="25.84" height="58.69" fill="#2a1a1c" opacity="0.6"/><rect x="1892.88" y="963.77" width="21.14" height="75.2" fill="#e8c0a0" opacity="0.6"/><rect x="215.13" y="1052.8" width="12.35" height="20.04" fill="#3a2622" opacity="0.6"/><rect x="367.42" y="906.9" width="10.93" height="47.62" fill="#4a3430" opacity="0.6"/><rect x="1733.79" y="802.91" width="14.42" height="51.6" fill="#1e1416" opacity="0.6"/><rect x="1879.09" y="797.78" width="11.5" height="31.06" fill="#1e1416" opacity="0.6"/><rect x="346.11" y="614.48" width="14.49" height="12.1" fill="#3a2622" opacity="0.6"/><rect x="999.12" y="1038.44" width="23.65" height="62.92" fill="#4a3430" opacity="0.6"/><rect x="538.1" y="888.99" width="17.4" height="79.58" fill="#4a3430" opacity="0.6"/><rect x="436.97" y="672.89" width="26.57" height="63.76" fill="#a87858" opacity="0.6"/><rect x="855.61" y="732.8" width="7.57" height="35.58" fill="#3a2622" opacity="0.6"/><rect x="541.92" y="639.92" width="6.76" height="59.64" fill="#e8c0a0" opacity="0.6"/><rect x="73.21" y="638.09" width="22.27" height="39.35" fill="#a87858" opacity="0.6"/><rect x="1088.37" y="905.09" width="14.74" height="24.33" fill="#d8a078" opacity="0.6"/><rect x="190.13" y="913.93" width="14.14" height="12.48" fill="#4a3430" opacity="0.6"/><rect x="1023.93" y="750.79" width="26.37" height="19.11" fill="#2a1a1c" opacity="0.6"/><rect x="782.57" y="970.49" width="14.79" height="58.72" fill="#4a3430" opacity="0.6"/><rect x="1226.68" y="802.91" width="10.21" height="12.4" fill="#2a1a1c" opacity="0.6"/><rect x="487.62" y="791.3" width="7.11" height="34.1" fill="#e8c0a0" opacity="0.6"/><rect x="1074.67" y="874.83" width="11.38" height="13.74" fill="#d8a078" opacity="0.6"/><rect x="1154.49" y="702.72" width="14.99" height="47.74" fill="#1e1416" opacity="0.6"/><rect x="1291.94" y="938.34" width="16.48" height="41.86" fill="#c48a62" opacity="0.6"/><rect x="900.77" y="844.02" width="11.25" height="77.74" fill="#3a2622" opacity="0.6"/><rect x="875.89" y="658.02" width="26.99" height="23.77" fill="#4a3430" opacity="0.6"/><rect x="1038.58" y="735.82" width="6.61" height="16.77" fill="#2a1a1c" opacity="0.6"/><rect x="1437.17" y="954.2" width="5.45" height="13.61" fill="#d8a078" opacity="0.6"/><rect x="168.25" y="833.77" width="15.56" height="12.94" fill="#4a3430" opacity="0.6"/><rect x="1315.92" y="740.17" width="15.4" height="33.03" fill="#c48a62" opacity="0.6"/><rect x="1107.56" y="786.66" width="19.29" height="19.96" fill="#2a1a1c" opacity="0.6"/><rect x="501.69" y="672.93" width="13.61" height="64.39" fill="#3a2622" opacity="0.6"/><rect x="1232.81" y="638.03" width="19.82" height="47.87" fill="#d8a078" opacity="0.6"/><rect x="982.37" y="766.66" width="16" height="18.01" fill="#4a3430" opacity="0.6"/><rect x="1102.6" y="779.81" width="15.24" height="54.11" fill="#d8a078" opacity="0.6"/><rect x="660.58" y="821.35" width="18.97" height="67.07" fill="#c48a62" opacity="0.6"/><rect x="442.38" y="644.82" width="10.76" height="45.52" fill="#1e1416" opacity="0.6"/><rect x="946.86" y="693.27" width="12.41" height="16.09" fill="#2a1a1c" opacity="0.6"/><rect x="1916.25" y="622.35" width="13.85" height="38.98" fill="#4a3430" opacity="0.6"/><rect x="242.38" y="682.18" width="16.03" height="29.86" fill="#1e1416" opacity="0.6"/><rect x="1110.62" y="756.48" width="14.48" height="14.8" fill="#1e1416" opacity="0.6"/><rect x="736.36" y="933.73" width="10.99" height="27.36" fill="#2a1a1c" opacity="0.6"/><rect x="1695" y="952.21" width="5.68" height="40.93" fill="#e8c0a0" opacity="0.6"/><rect x="1184.23" y="784.49" width="15.52" height="47.2" fill="#1e1416" opacity="0.6"/><rect x="1199.77" y="818.19" width="6.28" height="51.19" fill="#3a2622" opacity="0.6"/><rect x="1717.26" y="968.16" width="20.69" height="80.57" fill="#3a2622" opacity="0.6"/><rect x="796.79" y="835.86" width="7.55" height="19.29" fill="#2a1a1c" opacity="0.6"/><rect x="1650.8" y="1016.91" width="14.57" height="22.16" fill="#2a1a1c" opacity="0.6"/><rect x="1344.28" y="888.26" width="15.95" height="55.83" fill="#d8a078" opacity="0.6"/><rect x="532.4" y="608.41" width="25.88" height="34.18" fill="#1e1416" opacity="0.6"/><rect x="458.48" y="655.8" width="9.37" height="26.47" fill="#1e1416" opacity="0.6"/><rect x="513.6" y="701.93" width="25.63" height="28.05" fill="#e8c0a0" opacity="0.6"/><rect x="679.59" y="739.49" width="9.75" height="49.96" fill="#1e1416" opacity="0.6"/><rect x="63.09" y="896.46" width="22.95" height="28.8" fill="#3a2622" opacity="0.6"/><rect x="1460.72" y="977.1" width="6.56" height="29.52" fill="#2a1a1c" opacity="0.6"/><rect x="600.77" y="758.48" width="9.76" height="26" fill="#e8c0a0" opacity="0.6"/><rect x="904.93" y="715.5" width="16.73" height="39.66" fill="#c48a62" opacity="0.6"/><rect x="1600.35" y="841.93" width="14.92" height="26.29" fill="#4a3430" opacity="0.6"/><rect x="1296.58" y="649.08" width="24.76" height="39.9" fill="#4a3430" opacity="0.6"/><rect x="1538.62" y="958.17" width="10.23" height="64.31" fill="#e8c0a0" opacity="0.6"/><rect x="105.89" y="1000.87" width="12.56" height="23.87" fill="#4a3430" opacity="0.6"/><rect x="148.42" y="958.45" width="18.36" height="16.77" fill="#4a3430" opacity="0.6"/><rect x="1094.18" y="609.21" width="14.73" height="61.5" fill="#3a2622" opacity="0.6"/><rect x="957.76" y="655.36" width="8.75" height="71.33" fill="#a87858" opacity="0.6"/><rect x="577.22" y="989.86" width="9.35" height="44.26" fill="#a87858" opacity="0.6"/><rect x="732.56" y="768.35" width="5.24" height="50.14" fill="#a87858" opacity="0.6"/><rect x="1109.71" y="846.3" width="5.23" height="17.19" fill="#c48a62" opacity="0.6"/><rect x="406.22" y="1051.44" width="7.52" height="72.64" fill="#3a2622" opacity="0.6"/><rect x="1430.63" y="1042.67" width="11.91" height="37.39" fill="#d8a078" opacity="0.6"/><rect x="1620.5" y="988.92" width="24.29" height="80.58" fill="#d8a078" opacity="0.6"/><rect x="1889.66" y="675.93" width="19.1" height="47.14" fill="#4a3430" opacity="0.6"/><rect x="1443.97" y="966.03" width="26.98" height="59.38" fill="#e8c0a0" opacity="0.6"/><rect x="262.7" y="951.15" width="19.65" height="26.11" fill="#e8c0a0" opacity="0.6"/><rect x="581.84" y="904.7" width="5.63" height="26.76" fill="#a87858" opacity="0.6"/><rect x="130.04" y="834.88" width="25.62" height="27" fill="#a87858" opacity="0.6"/><rect x="1443.56" y="885.19" width="21.86" height="60.87" fill="#d8a078" opacity="0.6"/><rect x="1659.37" y="922.96" width="19.21" height="13.06" fill="#1e1416" opacity="0.6"/><rect x="298.69" y="989.54" width="14.79" height="48.54" fill="#a87858" opacity="0.6"/><rect x="313.94" y="935.25" width="22.6" height="72.17" fill="#c48a62" opacity="0.6"/><rect x="205.12" y="948.93" width="16.99" height="35.36" fill="#1e1416" opacity="0.6"/><rect x="509.03" y="1017.44" width="16.78" height="32.42" fill="#4a3430" opacity="0.6"/><rect x="1485.16" y="957.28" width="11.51" height="17.16" fill="#1e1416" opacity="0.6"/><rect x="1417.25" y="873.34" width="13.9" height="79.12" fill="#1e1416" opacity="0.6"/><rect x="1586.8" y="1023.86" width="18.77" height="12.53" fill="#4a3430" opacity="0.6"/><rect x="879.68" y="625.17" width="19.09" height="49.08" fill="#c48a62" opacity="0.6"/><rect x="1208.73" y="827.8" width="16.51" height="46.39" fill="#2a1a1c" opacity="0.6"/><rect x="1636.11" y="1059.3" width="6.92" height="60.37" fill="#a87858" opacity="0.6"/><rect x="1516" y="782.04" width="8.62" height="71.81" fill="#3a2622" opacity="0.6"/><rect x="1844.86" y="1017.29" width="10.76" height="81.4" fill="#2a1a1c" opacity="0.6"/><rect x="1222.69" y="709.39" width="19.85" height="20.31" fill="#4a3430" opacity="0.6"/><rect x="1287.03" y="973.97" width="19.77" height="12.1" fill="#a87858" opacity="0.6"/><rect x="621.03" y="875.55" width="25.07" height="56.56" fill="#c48a62" opacity="0.6"/><rect x="392.16" y="811.48" width="17.42" height="33.75" fill="#a87858" opacity="0.6"/><rect x="698.3" y="629.62" width="17.16" height="37.44" fill="#e8c0a0" opacity="0.6"/><rect x="706.2" y="603.17" width="5.83" height="23.05" fill="#e8c0a0" opacity="0.6"/><rect x="377.69" y="767.71" width="23.13" height="45.36" fill="#d8a078" opacity="0.6"/><rect x="81.14" y="850.86" width="19.93" height="34.32" fill="#c48a62" opacity="0.6"/><rect x="1100.94" y="760.78" width="22.26" height="36.43" fill="#1e1416" opacity="0.6"/><rect x="337.11" y="797.18" width="20.44" height="16.05" fill="#1e1416" opacity="0.6"/><rect x="1624.92" y="1028.58" width="20.37" height="55.23" fill="#c48a62" opacity="0.6"/><rect x="839.53" y="767.9" width="5.18" height="79.42" fill="#e8c0a0" opacity="0.6"/><rect x="817.46" y="620.23" width="20.17" height="41.63" fill="#2a1a1c" opacity="0.6"/><rect x="1337.5" y="988.7" width="5.94" height="30.58" fill="#4a3430" opacity="0.6"/><rect x="401.68" y="1017.48" width="12.66" height="40.92" fill="#d8a078" opacity="0.6"/><rect x="1787.38" y="920.15" width="12.84" height="47.55" fill="#1e1416" opacity="0.6"/><rect x="748.02" y="763.47" width="18.52" height="27.99" fill="#d8a078" opacity="0.6"/><rect x="515.35" y="672.28" width="10.79" height="21.62" fill="#a87858" opacity="0.6"/><rect x="1882.42" y="949.25" width="16.64" height="69.59" fill="#a87858" opacity="0.6"/><rect x="1598.93" y="983.34" width="26.8" height="65.17" fill="#1e1416" opacity="0.6"/><rect x="231.58" y="773.71" width="7.33" height="73.09" fill="#4a3430" opacity="0.6"/><rect x="1595.94" y="763.99" width="11.67" height="75.31" fill="#1e1416" opacity="0.6"/><rect x="1260.43" y="955.84" width="8.39" height="36.08" fill="#e8c0a0" opacity="0.6"/><rect x="591.16" y="1050.65" width="24.48" height="65.11" fill="#c48a62" opacity="0.6"/><rect x="1412.73" y="688.88" width="20.28" height="39.88" fill="#2a1a1c" opacity="0.6"/><rect x="1272.13" y="699.38" width="10.13" height="72.95" fill="#c48a62" opacity="0.6"/><rect x="894.72" y="898.44" width="21.54" height="80.79" fill="#e8c0a0" opacity="0.6"/><rect x="1014.95" y="1040.18" width="5.43" height="73.42" fill="#1e1416" opacity="0.6"/><rect x="1534.39" y="886.68" width="17.85" height="33.75" fill="#4a3430" opacity="0.6"/><rect x="293.19" y="841.73" width="10.67" height="77.22" fill="#a87858" opacity="0.6"/><rect x="1490.64" y="909.39" width="10.74" height="28.81" fill="#a87858" opacity="0.6"/><rect x="214.87" y="976.94" width="5.26" height="51.56" fill="#a87858" opacity="0.6"/><rect x="1680.3" y="856.93" width="14.52" height="20.12" fill="#1e1416" opacity="0.6"/><rect x="644.94" y="974.6" width="12.82" height="74.79" fill="#1e1416" opacity="0.6"/><rect x="1651.52" y="813.54" width="9.28" height="59.72" fill="#a87858" opacity="0.6"/><rect x="1072.09" y="995.17" width="17.98" height="36.37" fill="#2a1a1c" opacity="0.6"/><rect x="1137.63" y="888.38" width="12.09" height="40.52" fill="#e8c0a0" opacity="0.6"/><rect x="1867.61" y="600.78" width="9.32" height="27.77" fill="#e8c0a0" opacity="0.6"/><rect x="433.13" y="677.91" width="21.85" height="23.82" fill="#a87858" opacity="0.6"/><rect x="103.35" y="647.91" width="12.12" height="38.74" fill="#1e1416" opacity="0.6"/><rect x="224.14" y="631.19" width="20.87" height="59.14" fill="#2a1a1c" opacity="0.6"/><rect x="400.43" y="684.66" width="20.16" height="17.07" fill="#a87858" opacity="0.6"/><rect x="990.14" y="670.64" width="10.2" height="57.1" fill="#c48a62" opacity="0.6"/><rect x="812.27" y="909.24" width="24.45" height="28.16" fill="#c48a62" opacity="0.6"/><rect x="1589.35" y="762.94" width="6.52" height="24.05" fill="#d8a078" opacity="0.6"/><rect x="894.63" y="954.17" width="10.2" height="19.58" fill="#3a2622" opacity="0.6"/><rect x="1617.62" y="855.32" width="24.26" height="60.83" fill="#1e1416" opacity="0.6"/><rect x="874.48" y="831" width="10.2" height="40.4" fill="#3a2622" opacity="0.6"/><rect x="480.8" y="1007.63" width="26.08" height="30.72" fill="#3a2622" opacity="0.6"/><rect x="931.5" y="997.69" width="24.65" height="80.78" fill="#d8a078" opacity="0.6"/><rect x="1179.99" y="652.38" width="10.16" height="41.32" fill="#3a2622" opacity="0.6"/><rect x="225.14" y="1027.01" width="5.66" height="79.88" fill="#2a1a1c" opacity="0.6"/><rect x="661.89" y="879.28" width="24.97" height="35.25" fill="#a87858" opacity="0.6"/><rect x="603.19" y="983.11" width="7.39" height="73.86" fill="#d8a078" opacity="0.6"/><rect x="98.4" y="765.04" width="5.78" height="24.57" fill="#e8c0a0" opacity="0.6"/><rect x="110.79" y="729.4" width="20.62" height="81.2" fill="#d8a078" opacity="0.6"/><rect x="1648.45" y="978.25" width="20.72" height="38.91" fill="#c48a62" opacity="0.6"/><rect x="699.12" y="988.3" width="12.74" height="57.48" fill="#e8c0a0" opacity="0.6"/><rect x="656.11" y="866.46" width="17.02" height="55.95" fill="#3a2622" opacity="0.6"/><rect x="784.63" y="637.98" width="17.87" height="46.28" fill="#e8c0a0" opacity="0.6"/><rect x="783.78" y="1042.36" width="18.51" height="78.11" fill="#4a3430" opacity="0.6"/><rect x="1329.54" y="689.81" width="16.39" height="52.66" fill="#a87858" opacity="0.6"/><rect x="1834.59" y="891.73" width="11.39" height="60.61" fill="#3a2622" opacity="0.6"/><rect x="344.8" y="914.93" width="19.55" height="51.48" fill="#2a1a1c" opacity="0.6"/><rect x="380.71" y="1048.79" width="13.19" height="61.39" fill="#1e1416" opacity="0.6"/><rect x="1441.69" y="836.08" width="11.64" height="40.37" fill="#1e1416" opacity="0.6"/><rect x="1383.82" y="878.14" width="21.36" height="73.57" fill="#e8c0a0" opacity="0.6"/><rect x="1764.71" y="777" width="14.3" height="61.51" fill="#c48a62" opacity="0.6"/><rect x="240.14" y="706.32" width="23.43" height="61.78" fill="#a87858" opacity="0.6"/><rect x="362" y="649.76" width="13.35" height="46.7" fill="#a87858" opacity="0.6"/><rect x="614.87" y="939.15" width="17.85" height="32.21" fill="#c48a62" opacity="0.6"/><rect x="197.05" y="872.41" width="9.13" height="14.98" fill="#a87858" opacity="0.6"/><rect x="824.92" y="778.75" width="22.68" height="72.31" fill="#1e1416" opacity="0.6"/><rect x="68.86" y="1041.87" width="14.04" height="19.35" fill="#3a2622" opacity="0.6"/><rect x="1614.19" y="914.21" width="19.17" height="19.9" fill="#4a3430" opacity="0.6"/><rect x="1749.61" y="1018.74" width="25.21" height="63.56" fill="#4a3430" opacity="0.6"/><rect x="1223.66" y="742.4" width="19.09" height="57.44" fill="#c48a62" opacity="0.6"/><rect x="972.74" y="945.7" width="9.5" height="61.94" fill="#d8a078" opacity="0.6"/><rect x="1696.77" y="1033.34" width="5.17" height="29.43" fill="#4a3430" opacity="0.6"/><rect x="1140.59" y="631.99" width="18.85" height="12.54" fill="#d8a078" opacity="0.6"/><rect x="622.4" y="1025.02" width="24.75" height="21.56" fill="#1e1416" opacity="0.6"/><rect x="520.51" y="800.11" width="16" height="16.77" fill="#e8c0a0" opacity="0.6"/><rect x="519.87" y="608.56" width="20.2" height="33.9" fill="#d8a078" opacity="0.6"/><rect x="828.53" y="1035.68" width="12.49" height="45.32" fill="#2a1a1c" opacity="0.6"/><rect x="769.64" y="985.05" width="23.22" height="24" fill="#4a3430" opacity="0.6"/><rect x="753.63" y="753.13" width="7.23" height="73.14" fill="#a87858" opacity="0.6"/><rect x="217.46" y="985.18" width="12.72" height="18.55" fill="#3a2622" opacity="0.6"/><rect x="933.58" y="740.09" width="15.21" height="32.33" fill="#e8c0a0" opacity="0.6"/><rect x="799.33" y="688.15" width="23.06" height="74.78" fill="#2a1a1c" opacity="0.6"/><rect x="528.1" y="1019.64" width="9.44" height="23.97" fill="#e8c0a0" opacity="0.6"/><rect x="1367.81" y="997.03" width="9.32" height="56.45" fill="#4a3430" opacity="0.6"/><rect x="1533.41" y="947.64" width="6.67" height="71.62" fill="#1e1416" opacity="0.6"/><rect x="1396.3" y="713.1" width="11.18" height="33.62" fill="#4a3430" opacity="0.6"/><rect x="904.74" y="1014.69" width="12.31" height="33.21" fill="#a87858" opacity="0.6"/><rect x="1115.75" y="1014.31" width="7.18" height="35.66" fill="#2a1a1c" opacity="0.6"/><rect x="1358.37" y="719.77" width="25.57" height="27.82" fill="#a87858" opacity="0.6"/><rect x="627.79" y="691" width="25.07" height="37.68" fill="#e8c0a0" opacity="0.6"/><rect x="945.89" y="653.72" width="15.95" height="24.76" fill="#3a2622" opacity="0.6"/><rect x="153.76" y="628.21" width="18.43" height="12.2" fill="#2a1a1c" opacity="0.6"/><rect x="626.2" y="1012.61" width="8.94" height="43.06" fill="#3a2622" opacity="0.6"/><rect x="1904.71" y="744.96" width="26.7" height="53.67" fill="#2a1a1c" opacity="0.6"/><rect x="1360.51" y="1003.06" width="14.34" height="61.7" fill="#1e1416" opacity="0.6"/><rect x="493.53" y="1050.5" width="7.73" height="51.82" fill="#e8c0a0" opacity="0.6"/><rect x="1632.61" y="837.01" width="15.73" height="30.12" fill="#4a3430" opacity="0.6"/><rect x="585.16" y="731.35" width="22.56" height="17.43" fill="#d8a078" opacity="0.6"/><rect x="280.6" y="796.22" width="22.35" height="78.34" fill="#3a2622" opacity="0.6"/><rect x="1643.43" y="808.4" width="11.01" height="55.63" fill="#d8a078" opacity="0.6"/><rect x="792.57" y="604.9" width="23.29" height="50.85" fill="#c48a62" opacity="0.6"/><rect x="1284.27" y="717.51" width="24.91" height="36.62" fill="#2a1a1c" opacity="0.6"/><rect x="1435.17" y="679.62" width="22.34" height="54.54" fill="#e8c0a0" opacity="0.6"/><rect x="834.87" y="803.79" width="26.11" height="79.66" fill="#a87858" opacity="0.6"/><rect x="506.76" y="750.58" width="16.11" height="30.07" fill="#4a3430" opacity="0.6"/><rect x="108.23" y="869.22" width="17.33" height="68.92" fill="#a87858" opacity="0.6"/><rect x="1178.97" y="897.46" width="19.04" height="65.14" fill="#a87858" opacity="0.6"/><rect x="920.53" y="757.31" width="26.09" height="64.96" fill="#4a3430" opacity="0.6"/><rect x="1050.26" y="743.94" width="18.07" height="14.06" fill="#c48a62" opacity="0.6"/><rect x="326.49" y="1034.66" width="7.09" height="43.13" fill="#c48a62" opacity="0.6"/><rect x="892.63" y="638.82" width="11.16" height="15.69" fill="#1e1416" opacity="0.6"/><rect x="575.26" y="703.19" width="26.79" height="35.99" fill="#2a1a1c" opacity="0.6"/><rect x="70" y="505" width="200" height="5" fill="#7a4428" opacity="0.55"/><rect x="70" y="527" width="200" height="5" fill="#7a4428" opacity="0.55"/><rect x="70" y="549" width="200" height="5" fill="#7a4428" opacity="0.55"/><rect x="70" y="571" width="200" height="5" fill="#7a4428" opacity="0.55"/><rect x="70" y="593" width="200" height="5" fill="#7a4428" opacity="0.55"/><rect x="70" y="615" width="200" height="5" fill="#7a4428" opacity="0.55"/><rect x="70" y="637" width="200" height="5" fill="#7a4428" opacity="0.55"/><rect x="70" y="659" width="200" height="5" fill="#7a4428" opacity="0.55"/><rect x="70" y="681" width="200" height="5" fill="#7a4428" opacity="0.55"/><rect x="70" y="703" width="200" height="5" fill="#7a4428" opacity="0.55"/><rect x="70" y="725" width="200" height="5" fill="#7a4428" opacity="0.55"/><rect x="70" y="747" width="200" height="5" fill="#7a4428" opacity="0.55"/><rect x="70" y="769" width="200" height="5" fill="#7a4428" opacity="0.55"/><rect x="70" y="791" width="200" height="5" fill="#7a4428" opacity="0.55"/><rect x="70" y="813" width="200" height="5" fill="#7a4428" opacity="0.55"/><rect x="70" y="835" width="200" height="5" fill="#7a4428" opacity="0.55"/><rect x="70" y="857" width="200" height="5" fill="#7a4428" opacity="0.55"/><rect x="70" y="879" width="200" height="5" fill="#7a4428" opacity="0.55"/><rect x="70" y="901" width="200" height="5" fill="#7a4428" opacity="0.55"/><rect x="70" y="923" width="200" height="5" fill="#7a4428" opacity="0.55"/><rect x="70" y="945" width="200" height="5" fill="#7a4428" opacity="0.55"/><rect x="70" y="967" width="200" height="5" fill="#7a4428" opacity="0.55"/></g></g><rect x="972.9" y="816.4" width="402" height="216.5" fill="none" stroke="#080808" stroke-width="2.3"/>
<defs><clipPath id="tgc"><rect x="0" y="0" width="1900" height="1030"/></clipPath><radialGradient id="tgg" cx="0.5" cy="0.5" r="0.5"><stop offset="0" stop-color="#fff6d2"/><stop offset="0.2" stop-color="#f3e8bc"/><stop offset="0.45" stop-color="#d3d2b4" stop-opacity="0.85"/><stop offset="0.75" stop-color="#7f9fb4" stop-opacity="0.4"/><stop offset="1" stop-color="#3f6f99" stop-opacity="0"/></radialGradient><radialGradient id="tgb" cx="0.55" cy="0.55" r="0.8"><stop offset="0" stop-color="#386690"/><stop offset="0.5" stop-color="#264e74"/><stop offset="0.8" stop-color="#15304a"/><stop offset="1" stop-color="#0b1a2a"/></radialGradient><filter color-interpolation-filters="sRGB" id="tgf" x="-30%" y="-30%" width="160%" height="160%"><feGaussianBlur stdDeviation="70"/></filter><filter color-interpolation-filters="sRGB" id="tgf2" x="-30%" y="-30%" width="160%" height="160%"><feGaussianBlur stdDeviation="14"/></filter></defs><g transform="translate(1396 816.5) scale(0.21105 0.21000)"><g clip-path="url(#tgc)"><rect x="0" y="0" width="1900" height="1030" fill="url(#tgb)"/><g filter="url(#tgf)"><ellipse cx="60" cy="40" rx="560" ry="300" fill="#050d17" opacity="0.7"/><ellipse cx="1900" cy="1040" rx="430" ry="250" fill="#07111d" opacity="0.8"/><g transform="rotate(-27 1050 620)"><ellipse cx="1100" cy="700" rx="1050" ry="270" fill="#4f82ac" opacity="0.85"/><ellipse cx="1150" cy="610" rx="950" ry="120" fill="#6a9bc2" opacity="0.75"/></g></g><g transform="rotate(-26 930 500)"><ellipse cx="930" cy="465" rx="700" ry="215" fill="url(#tgg)"/><ellipse cx="960" cy="505" rx="210" ry="42" fill="#fffbe6" filter="url(#tgf2)"/></g><g filter="url(#tgf2)" fill="none" stroke-linecap="round"><path d="M470 770Q1100 640 1860 70" stroke="#4f80aa" stroke-width="95" opacity="0.9"/><path d="M640 700Q1100 585 1800 95" stroke="#1d3c5a" stroke-width="34" opacity="0.85"/><path d="M520 800Q1150 690 1880 160" stroke="#7fa9cc" stroke-width="26" opacity="0.6"/><path d="M760 760Q1200 640 1700 330" stroke="#244868" stroke-width="22" opacity="0.7"/></g><circle cx="859.52" cy="576.57" r="6" fill="#e6eef8" opacity="0.7"/><circle cx="1624.59" cy="195.6" r="7" fill="#e6eef8" opacity="0.71"/><circle cx="1166.52" cy="191.76" r="6" fill="#e6eef8" opacity="0.62"/><circle cx="172.27" cy="833.93" r="3" fill="#e6eef8" opacity="0.78"/><circle cx="752.7" cy="466.58" r="7" fill="#e6eef8" opacity="0.81"/><circle cx="1183.94" cy="856.65" r="3" fill="#e6eef8" opacity="0.48"/><circle cx="361.4" cy="249.2" r="3" fill="#e6eef8" opacity="0.88"/><circle cx="619.96" cy="608.69" r="3.5" fill="#e6eef8" opacity="0.74"/><circle cx="1216.55" cy="514.77" r="3" fill="#e6eef8" opacity="0.7"/><circle cx="528.51" cy="1027.59" r="3" fill="#e6eef8" opacity="0.84"/><circle cx="599.03" cy="236.56" r="4.5" fill="#e6eef8" opacity="0.47"/><circle cx="1069.97" cy="111.16" r="3" fill="#e6eef8" opacity="0.92"/><circle cx="734.38" cy="986.78" r="3" fill="#e6eef8" opacity="0.57"/><circle cx="1761.38" cy="53.89" r="6" fill="#e6eef8" opacity="0.99"/><circle cx="755.11" cy="75.23" r="3.5" fill="#e6eef8" opacity="0.88"/><circle cx="512.57" cy="89.76" r="4.5" fill="#e6eef8" opacity="0.46"/><circle cx="779.1" cy="950.53" r="3.5" fill="#e6eef8" opacity="0.59"/><circle cx="191.99" cy="61.69" r="6" fill="#e6eef8" opacity="0.55"/><circle cx="1062.66" cy="460.85" r="3.5" fill="#e6eef8" opacity="0.99"/><circle cx="1462.09" cy="431.81" r="6" fill="#e6eef8" opacity="0.51"/><circle cx="799.44" cy="219.25" r="4.5" fill="#e6eef8" opacity="0.93"/><circle cx="1852.23" cy="610.52" r="3" fill="#e6eef8" opacity="0.57"/><circle cx="749.12" cy="880.01" r="7" fill="#e6eef8" opacity="0.51"/><circle cx="1879.67" cy="219.64" r="4.5" fill="#e6eef8" opacity="0.46"/><circle cx="1159.63" cy="855.2" r="6" fill="#e6eef8" opacity="0.49"/><circle cx="171.22" cy="600.22" r="3.5" fill="#e6eef8" opacity="0.46"/><circle cx="700.48" cy="640.81" r="3.5" fill="#e6eef8" opacity="0.98"/><circle cx="919.08" cy="591.81" r="6" fill="#e6eef8" opacity="0.55"/><circle cx="292.86" cy="935.68" r="7" fill="#e6eef8" opacity="0.59"/><circle cx="360.62" cy="761.61" r="7" fill="#e6eef8" opacity="0.56"/><circle cx="1805.26" cy="908.66" r="7" fill="#e6eef8" opacity="0.49"/><circle cx="90.06" cy="112.32" r="7" fill="#e6eef8" opacity="0.98"/><circle cx="452.97" cy="725.72" r="4.5" fill="#e6eef8" opacity="0.68"/><circle cx="1719.17" cy="505.73" r="7" fill="#e6eef8" opacity="0.55"/><circle cx="1368.67" cy="70.84" r="3.5" fill="#e6eef8" opacity="0.71"/><circle cx="1241.66" cy="634.35" r="3" fill="#e6eef8" opacity="0.6"/><circle cx="1742.98" cy="210.1" r="3" fill="#e6eef8" opacity="0.49"/><circle cx="781.71" cy="256.54" r="3" fill="#e6eef8" opacity="0.55"/><circle cx="700.69" cy="589.33" r="3.5" fill="#e6eef8" opacity="0.5"/><circle cx="262.98" cy="463.86" r="4.5" fill="#e6eef8" opacity="0.81"/><circle cx="1313.32" cy="601.97" r="3.5" fill="#e6eef8" opacity="0.77"/><circle cx="1754.82" cy="489.04" r="4.5" fill="#e6eef8" opacity="0.84"/><circle cx="1829.26" cy="21.9" r="3" fill="#e6eef8" opacity="0.72"/><circle cx="1387.95" cy="328.47" r="3" fill="#e6eef8" opacity="0.49"/></g></g><rect x="1395.7" y="816.3" width="401.5" height="216.6" fill="none" stroke="#080808" stroke-width="2.3"/>
<defs><clipPath id="t3c"><rect x="55" y="55" width="1880" height="1015"/></clipPath></defs><g transform="translate(960 1040) scale(0.215)"><g clip-path="url(#t3c)"><rect x="55" y="55" width="1880" height="1015" fill="#fdfdfd" /><path d="M290 1070 L300 1000 L470 890 L1000 850 L1290 1070Z" fill="#3a221a" /><path d="M470 890 L1000 850 L1080 900 L560 960Z" fill="#4e2e22" /><path d="M225 620 L330 540 L450 545 L575 600 L600 780 L670 800 L660 870 L480 880 L300 760Z" fill="#171516" /><path d="M335 545 L445 550 L430 790 L360 780Z" fill="#f1f1f3" /><path d="M368 590 L412 590 L410 780 L372 770Z" fill="#161a2c" /><ellipse cx="398" cy="470" rx="72" ry="92" fill="#d9a688" /><path d="M322 420 L340 360 L400 345 L465 365 L478 430 L440 395 L360 395Z" fill="#4a3024" /><path d="M640 300 L760 270 L870 250 L1010 290 L1035 520 L1000 700 L1005 890 L880 880 L740 815 L705 700 L640 720 L585 690Z" fill="#171516" /><path d="M765 285 L860 260 L935 680 L835 690Z" fill="#b9c6e6" /><ellipse cx="780" cy="200" rx="78" ry="98" fill="#dfae90" /><path d="M705 120 L730 70 L810 58 L880 110 L905 190 L945 265 L900 280 L860 215 L820 130 L740 110Z" fill="#3c2620" /><rect x="840" y="690" width="110" height="26" fill="#2a2626" /><path d="M1040 340 L1150 300 L1270 250 L1400 265 L1440 420 L1475 620 L1400 650 L1395 900 L1200 885 L1190 740 L1110 700 L1010 700 L1000 600Z" fill="#171516" /><path d="M1160 305 L1275 262 L1385 690 L1215 705Z" fill="#f4f4f4" /><ellipse cx="1140" cy="205" rx="75" ry="98" fill="#dcac90" /><path d="M1055 150 L1100 90 L1180 75 L1240 120 L1290 150 L1285 215 L1250 235 L1225 170 L1150 120 L1080 170Z" fill="#6a4634" /><rect x="1210" y="705" width="180" height="24" fill="#6a3a24" /><path d="M1420 640 L1520 610 L1690 590 L1800 650 L1700 900 L1560 960 L1290 930 L1270 900 L1400 890Z" fill="#171516" /><path d="M1520 610 L1660 600 L1610 770 L1520 720Z" fill="#d8a486" /><ellipse cx="1525" cy="480" rx="88" ry="110" fill="#dcaa8c" /><path d="M1455 400 L1500 340 L1600 320 L1650 300 L1700 330 L1690 420 L1680 510 L1620 520 L1600 420 L1530 380Z" fill="#1e1616" /><path d="M1560 1070 L1600 900 L1760 660 L1935 530 L1935 1070Z" fill="#2b2b2d" /><path d="M1790 600 L1920 520 L1935 560 L1830 650Z" fill="#f0f2f6" /><path d="M1690 400 L1720 250 L1780 170 L1900 150 L1935 200 L1935 520 L1830 600 L1760 520 L1700 490Z" fill="#d6a384" /><path d="M1760 180 L1820 130 L1935 115 L1935 330 L1890 300 L1850 210Z" fill="#8a8680" /><path d="M1700 440 L1760 520 L1830 560 L1800 470Z" fill="#a89484" /><path d="M55 580 L200 590 L330 700 L480 790 L520 760 L560 800 L470 870 L440 910 L300 930 L290 1070 L55 1070Z" fill="#141213" /><path d="M55 270 L150 252 L250 270 L300 330 L290 430 L250 520 L200 600 L100 600 L55 560Z" fill="#452a24" /><path d="M265 400 L320 420 L330 500 L260 520Z" fill="#d6a080" /><path d="M470 790 L540 700 L590 655 L640 700 L620 760 L560 790 L500 830Z" fill="#dcaa8c" /><path d="M320 930 L420 945 L560 975 L540 1000 L400 990 L310 960Z" fill="#dcaa8c" /><path d="M480 870 L560 830 L590 850 L520 890Z" fill="#d8a484" /><path d="M940 900 L1000 890 L1010 925 L950 925Z" fill="#d8a484" /><path d="M450 900 L690 862 L715 885 L640 925Z" fill="#1c1c20" /><path d="M620 905 L705 872 L715 888 L640 925Z" fill="#2a90e0" /><path d="M968 720 L1180 765 L1245 1030 L1010 950Z" fill="#c2c2c4" /><path d="M1010 950 L1245 1030 L1238 1045 L1005 962Z" fill="#8a8a8e" /><path d="M1215 930 L1320 960 L1265 1035 L1240 1030Z" fill="#a8a8ac" /><path d="M1200 890 L1260 900 L1250 925 L1210 915Z" fill="#d8a484" /><path d="M1270 1000 L1330 950 L1560 950 L1570 1000 L1540 1060 L1300 1055Z" fill="#dcaa8c" /><path d="M1540 1000 L1590 990 L1590 1060 L1545 1060Z" fill="#eef0f4" /></g></g><rect x="972.9" y="1052.9" width="402" height="216.3" fill="none" stroke="#080808" stroke-width="2.3"/>
<defs><clipPath id="t4c"><rect x="45" y="55" width="1900" height="1027"/></clipPath><radialGradient id="t4sky" cx="0.76" cy="0.25" r="0.6"><stop offset="0" stop-color="#ffffff"/><stop offset="0.5" stop-color="#e6eef0"/><stop offset="1" stop-color="#a9b7c2"/></radialGradient><linearGradient id="t4road" x1="0" y1="0" x2="1" y2="0"><stop offset="0" stop-color="#1a222d"/><stop offset="0.45" stop-color="#222d3a"/><stop offset="0.75" stop-color="#6f7f8f"/><stop offset="1" stop-color="#b5c0ca"/></linearGradient><filter color-interpolation-filters="sRGB" id="t4b" x="-10%" y="-10%" width="120%" height="120%"><feGaussianBlur stdDeviation="7"/></filter><filter color-interpolation-filters="sRGB" id="t4b2" x="-10%" y="-10%" width="120%" height="120%"><feGaussianBlur stdDeviation="18"/></filter></defs><g transform="translate(1385 1040) scale(0.2125)"><g clip-path="url(#t4c)"><rect x="45" y="55" width="1900" height="1027" fill="url(#t4sky)" /><g filter="url(#t4b)"><path d="M45 55 L800 55 L1490 530Z" fill="#6c7886" /><path d="M45 55 L45 260 L1490 530Z" fill="#1b232d" /><path d="M45 260 L45 420 L1490 530Z" fill="#9aa6b2" /><path d="M45 420 L45 520 L1490 530Z" fill="#5d6977" /><path d="M45 520 L45 590 L1490 530Z" fill="#aab4be" /><path d="M60 70 L520 70 L700 180 L640 330 L300 260 L60 200Z" fill="#161d26" /><path d="M520 70 L830 60 L1000 200 L800 330 L700 200Z" fill="#56626e" /><path d="M800 110 L880 70 L1000 90 L1130 150 L1200 240 L1330 330 L1350 430 L1230 420 L1100 330 L900 300 L780 200Z" fill="#27313b" /><path d="M800 250 L1000 240 L1180 330 L1300 440 L1100 420 L900 370Z" fill="#b6c0c8" /><path d="M45 560 L1490 530 L1480 1082 L45 1082Z" fill="url(#t4road)" /><path d="M45 600 L1490 530 L45 700Z" fill="#2c3846" /><path d="M45 820 L1490 530 L700 1082 L45 1082Z" fill="#131a23" /><path d="M1000 800 L1490 530 L1400 800 L1250 1082 L900 1082Z" fill="#2a3542" /><path d="M1480 1082 L1490 530 L1945 540 L1945 1082Z" fill="#dfe6ea" /><path d="M1700 1082 L1490 530 L1945 900 L1945 1082Z" fill="#c2ccd4" /><path d="M1945 640 L1490 530 L1945 760Z" fill="#3a4550" /><path d="M1945 800 L1490 530 L1945 850Z" fill="#4a5560" /><path d="M1640 520 L1945 470 L1945 600 L1700 570Z" fill="#8e9aa6" /><path d="M1380 700 L1440 560 L1470 560 L1440 720Z" fill="#dde4e8" /><path d="M1490 530 L-828.34 -646.98 L-794.86 -710.73Z" fill="#8793a0" opacity="0.3587015684850844"/><path d="M1490 530 L-943.36 -385.85 L-911.49 -466.41Z" fill="#3a4652" opacity="0.3655559761097293"/><path d="M1490 530 L-1082.94 155.84 L-1076.05 111.22Z" fill="#1c2530" opacity="0.4642273751134295"/><path d="M1490 530 L-1095.38 254.66 L-1091.29 218.64Z" fill="#3a4652" opacity="0.4150189401391544"/><path d="M1490 530 L-1041.52 -62.8 L-1020.87 -144.92Z" fill="#aab5c0" opacity="0.39788126370741145"/><path d="M1490 530 L-668.39 -919.61 L-652.52 -942.95Z" fill="#8793a0" opacity="0.4834507058412564"/><path d="M1490 530 L-1088.99 200.1 L-1076.22 112.28Z" fill="#10161e" opacity="0.41283691474853534"/><path d="M1490 530 L-1065.47 50.87 L-1047.47 -36.78Z" fill="#1c2530" opacity="0.4367915503240779"/><path d="M1490 530 L-488.26 -1157.15 L-450.6 -1200.34Z" fill="#1c2530" opacity="0.4045006005636811"/><path d="M1490 530 L-479.9 -1166.91 L-458.57 -1191.36Z" fill="#3a4652" opacity="0.4396366693561603"/><path d="M1490 530 L-1003.61 -206.16 L-994.89 -235.07Z" fill="#1c2530" opacity="0.42914358168499106"/><path d="M1490 530 L-1018.16 -154.94 L-996.63 -229.39Z" fill="#eef2f5" opacity="0.351014935812307"/><path d="M1490 530 L-781.42 -735.16 L-760.35 -772.28Z" fill="#141b24" opacity="0.4566054071899907"/><path d="M1490 530 L-1030.08 -109.67 L-1012.3 -176.04Z" fill="#1c2530" opacity="0.49436551587105915"/><path d="M1490 530 L-757.42 -777.33 L-746.13 -796.55Z" fill="#10161e" opacity="0.6347661430011577"/><path d="M1490 530 L-1005.42 -199.98 L-991.67 -245.45Z" fill="#eef2f5" opacity="0.5863214911941302"/><path d="M1490 530 L-1001.02 -214.85 L-983.13 -272.28Z" fill="#10161e" opacity="0.4858466760368506"/><path d="M1490 530 L-754.59 -782.18 L-721.91 -836.55Z" fill="#1c2530" opacity="0.38570616712213246"/><path d="M1490 530 L-1054.65 -3.62 L-1037.58 -79.37Z" fill="#aab5c0" opacity="0.45331454391590353"/><path d="M1490 530 L-1006.87 -195.02 L-990.6 -248.86Z" fill="#aab5c0" opacity="0.38241586071944983"/><path d="M1490 530 L-716.46 -845.32 L-675.31 -909.25Z" fill="#141b24" opacity="0.36098947398284825"/><path d="M1490 530 L-506.61 -1135.4 L-490.65 -1154.35Z" fill="#141b24" opacity="0.5038640162590762"/><path d="M1490 530 L-1002.87 -208.66 L-994.5 -236.33Z" fill="#d5dce3" opacity="0.6272592858283372"/><path d="M1490 530 L-888.79 -519.46 L-872.01 -556.69Z" fill="#141b24" opacity="0.4418513205144057"/><path d="M1490 530 L-666.74 -922.06 L-630.55 -974.42Z" fill="#141b24" opacity="0.6490180443610112"/><path d="M1490 530 L-1081.7 147.44 L-1078.42 126.01Z" fill="#eef2f5" opacity="0.5100592224082503"/><path d="M1490 530 L-979.42 -283.6 L-968.12 -317.13Z" fill="#eef2f5" opacity="0.4531498703948308"/><path d="M1490 530 L-1053.1 -10.94 L-1038.69 -74.75Z" fill="#1c2530" opacity="0.366712169302368"/><path d="M1490 530 L-540.74 -1093.6 L-527.86 -1109.59Z" fill="#3a4652" opacity="0.45025558808094845"/><path d="M1490 530 L-1068.24 65.9 L-1050.78 -21.77Z" fill="#eef2f5" opacity="0.6349395687865695"/><path d="M1490 530 L-822.15 -659.1 L-786.72 -725.61Z" fill="#10161e" opacity="0.4006462583718192"/><path d="M1490 530 L-997.45 -226.69 L-990.84 -248.11Z" fill="#aab5c0" opacity="0.4384438778635913"/><path d="M1490 530 L-951.24 -364.63 L-918.55 -449.24Z" fill="#1c2530" opacity="0.6428022709239892"/><path d="M1490 530 L-951 -365.29 L-932.02 -415.41Z" fill="#3a4652" opacity="0.445310675678497"/><path d="M1490 530 L136.35 2749.83 L72.04 2709.31Z" fill="#3c4957" opacity="0.2781400873828693"/><path d="M1490 530 L-1010.78 1241.41 L-1032.22 1161.21Z" fill="#3c4957" opacity="0.40674124273870976"/><path d="M1490 530 L-470.67 2237.56 L-510.25 2191.03Z" fill="#0e141c" opacity="0.372965505853873"/><path d="M1490 530 L-507.07 2194.84 L-560.34 2128.78Z" fill="#5d6b7a" opacity="0.2657771981992248"/><path d="M1490 530 L-983.05 1332.5 L-1001.78 1272.31Z" fill="#0e141c" opacity="0.43990968410987236"/><path d="M1490 530 L-123.12 2569.08 L-202.32 2503.84Z" fill="#5d6b7a" opacity="0.4588081212447681"/><path d="M1490 530 L164.19 2766.57 L50.75 2695.31Z" fill="#5d6b7a" opacity="0.48922135670771366"/><path d="M1490 530 L-57.48 2619.33 L-91.78 2593.48Z" fill="#0e141c" opacity="0.36857596141657023"/><path d="M1490 530 L-958.59 1404.31 L-978 1347.9Z" fill="#5d6b7a" opacity="0.365734747217645"/><path d="M1490 530 L-1005.51 1259.69 L-1030.78 1166.94Z" fill="#5d6b7a" opacity="0.336971127006925"/><path d="M1490 530 L-767.02 1820.68 L-817.93 1727.27Z" fill="#1a222d" opacity="0.33751128785746776"/><path d="M1490 530 L-1029.94 1170.24 L-1057.07 1051.94Z" fill="#1a222d" opacity="0.4940305470754852"/><path d="M1490 530 L-1098.5 774.31 L-1104.88 693.09Z" fill="#3c4957" opacity="0.29966329939033887"/><path d="M1490 530 L-119.23 2572.15 L-211.4 2496.02Z" fill="#5d6b7a" opacity="0.4228563962110071"/><path d="M1490 530 L-887.71 1581.89 L-928.44 1484.53Z" fill="#3c4957" opacity="0.4041951126984723"/><path d="M1490 530 L-1090.76 845.71 L-1099.37 764.89Z" fill="#1a222d" opacity="0.3256665237690082"/><path d="M1490 530 L-590.55 2089.27 L-660.87 1990.74Z" fill="#5d6b7a" opacity="0.4301036186442092"/><path d="M1490 530 L942.57 3071.72 L902.71 3062.8Z" fill="#1a222d" opacity="0.4060179547408913"/><path d="M1490 530 L428.43 2903.41 L330.07 2856.92Z" fill="#3c4957" opacity="0.4077162905008762"/><path d="M1490 530 L893.41 3060.63 L819.52 3042.06Z" fill="#3c4957" opacity="0.2914363705630284"/><path d="M1490 530 L-1066.97 1001.08 L-1073.12 966.36Z" fill="#3c4957" opacity="0.3706654667730631"/><path d="M1490 530 L-580.13 2103.08 L-621.62 2046.92Z" fill="#5d6b7a" opacity="0.345074712601535"/><path d="M1490 530 L2995.6 2649.71 L2936.57 2690.42Z" fill="#9aa6b2" opacity="0.4654045691412292"/><path d="M1490 530 L3641.3 1990.1 L3612.85 2031.17Z" fill="#56626e" opacity="0.5067564168796889"/><path d="M1490 530 L2096.49 3058.27 L2017.77 3075.87Z" fill="#2e3944" opacity="0.3621638967790544"/><path d="M1490 530 L4079.7 761.19 L4072.09 834.63Z" fill="#ffffff" opacity="0.33858439969693316"/><path d="M1490 530 L3293.25 2403.05 L3216.55 2473.97Z" fill="#56626e" opacity="0.5374901511183787"/><path d="M1490 530 L2276.47 3008.2 L2222.73 3024.61Z" fill="#2e3944" opacity="0.44268896253046164"/><path d="M1490 530 L3651.26 1975.32 L3633.85 2001.02Z" fill="#2e3944" opacity="0.3648239096191357"/><path d="M1490 530 L3390.76 2304.02 L3365.85 2330.33Z" fill="#9aa6b2" opacity="0.43258296793139994"/><path d="M1490 530 L3690.2 1915.32 L3635.73 1998.27Z" fill="#ffffff" opacity="0.36455614590924607"/><path d="M1490 530 L3740.77 1831.56 L3688.35 1918.26Z" fill="#2e3944" opacity="0.2922101452770229"/><path d="M1490 530 L2938.89 2688.87 L2855.62 2742.49Z" fill="#c8d2da" opacity="0.37876026726890455"/><path d="M1490 530 L1671.62 3123.65 L1608.79 3127.28Z" fill="#c8d2da" opacity="0.5417363882995364"/><path d="M1490 530 L3628.58 2008.68 L3566.91 2094.12Z" fill="#9aa6b2" opacity="0.42874299346048494"/><path d="M1490 530 L3858.81 1601.79 L3812.63 1698.51Z" fill="#c8d2da" opacity="0.3253204846728408"/><path d="M1490 530 L4084.6 697.41 L4075.84 800.97Z" fill="#56626e" opacity="0.3975264152799797"/><path d="M1490 530 L3814.19 1695.4 L3786 1749.99Z" fill="#ffffff" opacity="0.4480176537223606"/><path d="M1490 530 L1733.26 3118.6 L1692.98 3122.06Z" fill="#ffffff" opacity="0.4845118890772169"/><path d="M1490 530 L2245.6 3017.78 L2227.06 3023.34Z" fill="#2e3944" opacity="0.41809461848539325"/><path d="M1490 530 L3884.4 1543.33 L3859.89 1599.4Z" fill="#ffffff" opacity="0.32369805460449785"/><path d="M1490 530 L3845.99 1629.68 L3832.19 1658.77Z" fill="#56626e" opacity="0.33795647656678546"/><path d="M1490 530 L3007.53 2641.18 L2957.4 2676.33Z" fill="#2e3944" opacity="0.514197938315883"/><path d="M1490 530 L1987.43 3081.97 L1968.16 3085.65Z" fill="#9aa6b2" opacity="0.34020692769217664"/><path d="M1490 530 L3233.75 2458.55 L3197.36 2490.85Z" fill="#56626e" opacity="0.4693827938956041"/><path d="M1490 530 L4082.72 724.45 L4078.51 774.16Z" fill="#2e3944" opacity="0.2897438824991038"/><path d="M1490 530 L4088.01 631.8 L4084.43 700.06Z" fill="#ffffff" opacity="0.5163821727501317"/><path d="M1490 530 L3198.46 2489.89 L3183.73 2502.63Z" fill="#c8d2da" opacity="0.4284676244310478"/></g><ellipse cx="1530" cy="300" rx="330" ry="230" fill="#ffffff" filter="url(#t4b2)" opacity="0.9"/><ellipse cx="1250" cy="640" rx="180" ry="70" fill="#9eacb8" filter="url(#t4b2)" opacity="0.8"/><path d="M1255 210 L1290 165 L1325 230 L1338 400 L1300 420 L1245 320Z" fill="#6b7783" filter="url(#t4b)" opacity="0.85"/><path d="M1600 420 L1630 370 L1650 430 L1640 520 L1610 520Z" fill="#9aa6b0" filter="url(#t4b)" opacity="0.7"/><path d="M560 770 L1000 720 L1200 700 L1000 860 L650 830Z" fill="#0b0e12" filter="url(#t4b)" opacity="0.85"/><path d="M560 600 L575 578 L640 590 L760 590 L870 580 L980 600 L1045 640 L1050 690 L1010 720 L880 760 L700 760 L580 730 L556 680Z" fill="#2c1114" /><path d="M690 625 L780 590 L880 585 L940 610 L800 640Z" fill="#15171c" /><path d="M860 610 L980 605 L1045 645 L1040 690 L900 700Z" fill="#6a1e22" /><ellipse cx="855" cy="730" rx="36" ry="48" fill="#0c0c0e" /><ellipse cx="1030" cy="680" rx="18" ry="36" fill="#0c0c0e" /><ellipse cx="625" cy="690" rx="12" ry="16" fill="#ff6a3a" /><ellipse cx="760" cy="670" rx="16" ry="10" fill="#e0502a" /></g></g><rect x="1395.7" y="1052.8" width="401.5" height="216.4" fill="none" stroke="#080808" stroke-width="2.3"/>
<!-- p2_lines -->
<path d="M446.8 626V735" fill="none" stroke="#f92c4f" stroke-width="2.4"/>
<path d="M446.8 695.8 L438.5 709.3 L455.1 709.3Z" fill="#f92c4f"/>
<path d="M574.1 626V911.3A31 31 0 0 1 543.1 942.3H452" fill="none" stroke="#f92c4f" stroke-width="2.4"/>
<path d="M574.1 820.5 L565.8 834 L582.4 834Z" fill="#f92c4f"/>
<path d="M699.2 626V1060A31 31 0 0 1 668.2 1091H456" fill="none" stroke="#f92c4f" stroke-width="2.4"/>
<path d="M699.2 820.5 L690.9 834 L707.5 834Z" fill="#f92c4f"/>
<path d="M826.4 626V1221A31 31 0 0 1 795.4 1252H450" fill="none" stroke="#f92c4f" stroke-width="2.4"/>
<path d="M826.4 820.5 L818.1 834 L834.7 834Z" fill="#f92c4f"/>
<path d="M1334 626V815" fill="none" stroke="#f92c4f" stroke-width="2.4"/>
<path d="M1334 750 L1325.7 736.5 L1342.3 736.5Z" fill="#f92c4f"/>
<circle cx="447.1" cy="624.6" r="10.2" fill="#f92c4f"/>
<circle cx="573.96" cy="624.6" r="10.2" fill="#f92c4f"/>
<circle cx="699.5" cy="624.6" r="10.2" fill="#f92c4f"/>
<circle cx="826.3" cy="624.6" r="10.2" fill="#f92c4f"/>
<circle cx="1333.6" cy="625.8" r="10.6" fill="#f92c4f"/>
<path d="M372 308.4H541" fill="none" stroke="#808b8e" stroke-width="2.2"/>
<path d="M462.5 308.2 L475 300.4 L475 316Z" fill="#808b8e"/>
<path d="M507.7 308.2 L494.2 300.4 L494.2 316Z" fill="#808b8e"/>
<path d="M664 324V372.3A29 29 0 0 1 635 401.3H477.1A28.5 28.5 0 0 0 448.6 429.8V501" fill="none" stroke="#808b8e" stroke-width="2.2"/>
<path d="M536 401.3 L550.9 393.2 L550.9 409.4Z" fill="#808b8e"/>
<path d="M584.7 401.3 L569.1 393.2 L569.1 409.4Z" fill="#808b8e"/>
<circle cx="448.3" cy="500.5" r="10.3" fill="#a3aeb9"/>
<path d="M1285 336V507" fill="none" stroke="#dfe000" stroke-width="2.4"/>
<path d="M1285 384 L1276.3 396.2 L1293.7 396.2Z" fill="#dfe000"/>
<circle cx="1284.6" cy="506.6" r="10.4" fill="#e2e300"/>
<path d="M1496.8 329.5V383.9A19.5 19.5 0 0 1 1477.3 403.6H1367.9A19.5 19.5 0 0 0 1348.4 423.1V524" fill="none" stroke="#4343f5" stroke-width="2.4"/>
<path d="M1429 403.6 L1414.8 395.6 L1414.8 411.6Z" fill="#4343f5"/>
<circle cx="1348.6" cy="524.1" r="10.8" fill="#4545ff"/>
<path d="M94.5 439V557A18 18 0 0 0 112.5 575H628.9A18 18 0 0 0 646.9 557V527" fill="none" stroke="#7a1a7a" stroke-width="2.4"/>
<path d="M94.5 515 L86.2 501.5 L102.8 501.5Z" fill="#7a1a7a"/>
<circle cx="646.9" cy="526.7" r="10.6" fill="#7d1a80"/>
</svg>
</body></html>
